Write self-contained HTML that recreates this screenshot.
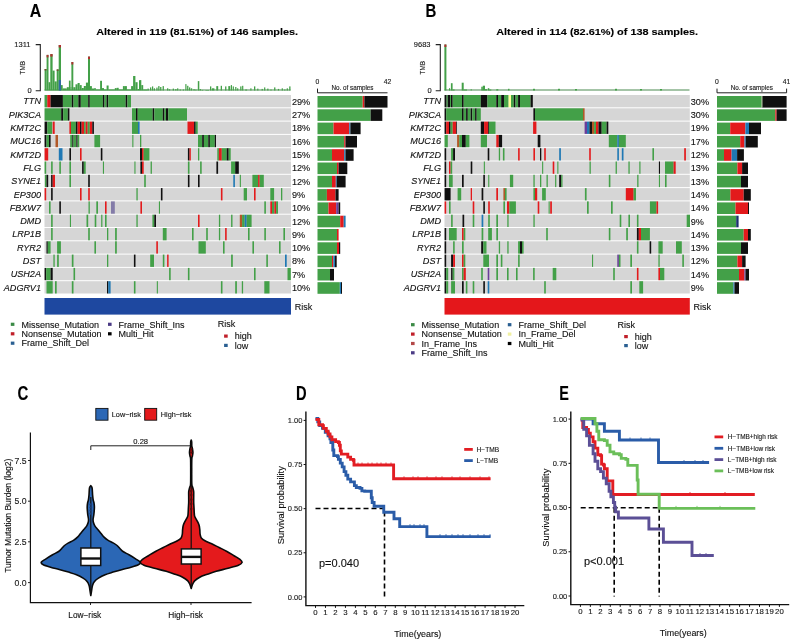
<!DOCTYPE html>
<html><head><meta charset="utf-8"><style>
html,body{margin:0;padding:0;background:#fff;}
body{width:796px;height:640px;overflow:hidden;}
svg{display:block;font-family:"Liberation Sans", sans-serif;filter:blur(0.3px);}
svg text{stroke:#111;stroke-width:0.12px;}
</style></head><body>
<svg width="796" height="640" viewBox="0 0 796 640">
<rect width="796" height="640" fill="#fff"/>
<text x="0" y="0" font-size="19" font-weight="bold" fill="#000" transform="translate(29.8,16.5) scale(0.84,1)">A</text>
<text x="0" y="0" font-size="9.4" font-weight="bold" text-anchor="middle" fill="#000" transform="translate(197.15,34.9) scale(1.16,1)">Altered in 119 (81.51%) of 146 samples.</text>
<path d="M35.7 44.6 H40.3 V90.7 H35.7" fill="none" stroke="#222" stroke-width="1.1"/>
<text x="30.50" y="47.30" font-size="7.5" text-anchor="end" font-weight="normal" font-style="normal" fill="#222" >1311</text>
<text x="31.70" y="93.40" font-size="7.5" text-anchor="end" font-weight="normal" font-style="normal" fill="#222" >0</text>
<text x="0" y="0" font-size="6.4" text-anchor="middle" fill="#222" transform="translate(25.3,67.7) rotate(-90)">TMB</text>
<rect x="44.5" y="89.5" width="246.0" height="1.0" fill="#4a8a50"/>
<rect x="44.60" y="69.00" width="2.00" height="21.50" fill="#43a048" />
<rect x="44.60" y="69.00" width="2.00" height="1.50" fill="#7a4a30" />
<rect x="46.60" y="54.90" width="1.90" height="35.60" fill="#43a048" />
<rect x="46.60" y="54.90" width="1.90" height="2.50" fill="#b03030" />
<rect x="48.50" y="82.20" width="1.80" height="8.30" fill="#43a048" />
<rect x="50.30" y="54.10" width="2.30" height="36.40" fill="#43a048" />
<rect x="50.30" y="54.10" width="2.30" height="2.50" fill="#b03030" />
<rect x="52.60" y="70.60" width="2.00" height="19.90" fill="#43a048" />
<rect x="54.60" y="81.40" width="2.10" height="9.10" fill="#43a048" />
<rect x="56.70" y="69.40" width="2.00" height="21.10" fill="#43a048" />
<rect x="56.70" y="69.40" width="2.00" height="1.50" fill="#7a4a30" />
<rect x="58.70" y="45.00" width="2.30" height="45.50" fill="#43a048" />
<rect x="58.70" y="45.00" width="2.30" height="2.50" fill="#b03030" />
<rect x="58.70" y="80.00" width="2.30" height="10.50" fill="#2f6aa0" />
<rect x="61.00" y="85.10" width="1.70" height="5.40" fill="#43a048" />
<rect x="62.70" y="88.40" width="4.10" height="2.10" fill="#43a048" />
<rect x="66.80" y="87.20" width="2.10" height="3.30" fill="#43a048" />
<rect x="68.90" y="80.60" width="1.70" height="9.90" fill="#43a048" />
<rect x="70.60" y="87.00" width="0.80" height="3.50" fill="#43a048" />
<rect x="71.40" y="62.00" width="1.90" height="28.50" fill="#43a048" />
<rect x="71.40" y="62.00" width="1.90" height="2.50" fill="#b03030" />
<rect x="73.30" y="87.20" width="2.20" height="3.30" fill="#43a048" />
<rect x="75.50" y="84.30" width="2.10" height="6.20" fill="#43a048" />
<rect x="77.60" y="83.00" width="2.10" height="7.50" fill="#43a048" />
<rect x="79.70" y="85.10" width="2.00" height="5.40" fill="#43a048" />
<rect x="81.70" y="88.00" width="2.10" height="2.50" fill="#43a048" />
<rect x="83.80" y="86.00" width="2.10" height="4.50" fill="#43a048" />
<rect x="85.90" y="82.60" width="2.10" height="7.90" fill="#43a048" />
<rect x="88.00" y="56.60" width="2.00" height="33.90" fill="#43a048" />
<rect x="88.00" y="56.60" width="2.00" height="2.50" fill="#b03030" />
<rect x="90.00" y="86.10" width="1.90" height="4.40" fill="#43a048" />
<rect x="91.90" y="88.50" width="2.30" height="2.00" fill="#43a048" />
<rect x="94.20" y="88.10" width="1.60" height="2.40" fill="#43a048" />
<rect x="95.80" y="89.50" width="4.30" height="1.00" fill="#43a048" />
<rect x="100.10" y="80.80" width="1.90" height="9.70" fill="#43a048" />
<rect x="102.00" y="88.10" width="2.00" height="2.40" fill="#43a048" />
<rect x="104.00" y="89.50" width="2.60" height="1.00" fill="#43a048" />
<rect x="106.60" y="85.50" width="2.00" height="5.00" fill="#43a048" />
<rect x="108.60" y="89.50" width="6.20" height="1.00" fill="#43a048" />
<rect x="114.80" y="88.10" width="1.90" height="2.40" fill="#43a048" />
<rect x="116.70" y="87.80" width="2.00" height="2.70" fill="#43a048" />
<rect x="118.70" y="89.50" width="4.20" height="1.00" fill="#43a048" />
<rect x="122.90" y="86.10" width="2.00" height="4.40" fill="#43a048" />
<rect x="124.90" y="86.10" width="2.00" height="4.40" fill="#43a048" />
<rect x="126.90" y="89.50" width="4.20" height="1.00" fill="#43a048" />
<rect x="131.10" y="86.10" width="2.00" height="4.40" fill="#43a048" />
<rect x="133.10" y="76.00" width="2.30" height="14.50" fill="#43a048" />
<rect x="135.40" y="82.20" width="2.20" height="8.30" fill="#43a048" />
<rect x="137.60" y="89.00" width="1.40" height="1.50" fill="#43a048" />
<rect x="139.00" y="80.20" width="1.00" height="10.30" fill="#43a048" />
<rect x="140.00" y="80.10" width="1.30" height="10.40" fill="#43a048" />
<rect x="141.30" y="85.10" width="1.90" height="5.40" fill="#43a048" />
<rect x="143.20" y="89.50" width="4.30" height="1.00" fill="#43a048" />
<rect x="147.50" y="88.60" width="1.30" height="1.90" fill="#43a048" />
<rect x="150.00" y="87.40" width="1.30" height="3.10" fill="#43a048" />
<rect x="152.00" y="86.40" width="1.20" height="4.10" fill="#43a048" />
<rect x="153.80" y="88.30" width="1.20" height="2.20" fill="#43a048" />
<rect x="156.30" y="87.60" width="1.30" height="2.90" fill="#43a048" />
<rect x="158.20" y="86.10" width="1.30" height="4.40" fill="#43a048" />
<rect x="160.10" y="87.00" width="1.30" height="3.50" fill="#43a048" />
<rect x="162.60" y="86.10" width="1.30" height="4.40" fill="#43a048" />
<rect x="167.00" y="88.30" width="1.30" height="2.20" fill="#43a048" />
<rect x="168.90" y="89.30" width="1.30" height="1.20" fill="#43a048" />
<rect x="172.70" y="88.60" width="1.30" height="1.90" fill="#43a048" />
<rect x="175.20" y="89.10" width="1.30" height="1.40" fill="#43a048" />
<rect x="177.10" y="88.30" width="1.20" height="2.20" fill="#43a048" />
<rect x="179.60" y="89.50" width="1.30" height="1.00" fill="#43a048" />
<rect x="182.80" y="89.50" width="1.20" height="1.00" fill="#43a048" />
<rect x="185.30" y="84.10" width="1.20" height="6.40" fill="#43a048" />
<rect x="187.10" y="85.80" width="1.30" height="4.70" fill="#43a048" />
<rect x="189.00" y="87.40" width="1.30" height="3.10" fill="#43a048" />
<rect x="190.90" y="88.30" width="1.30" height="2.20" fill="#43a048" />
<rect x="193.40" y="89.10" width="1.30" height="1.40" fill="#43a048" />
<rect x="195.30" y="89.50" width="1.20" height="1.00" fill="#43a048" />
<rect x="197.80" y="81.10" width="1.50" height="9.40" fill="#43a048" />
<rect x="199.70" y="89.10" width="1.30" height="1.40" fill="#43a048" />
<rect x="201.60" y="89.90" width="1.60" height="0.60" fill="#43a048" />
<rect x="205.40" y="90.00" width="3.60" height="0.50" fill="#43a048" />
<rect x="210.00" y="86.40" width="1.30" height="4.10" fill="#43a048" />
<rect x="211.90" y="88.30" width="2.50" height="2.20" fill="#43a048" />
<rect x="216.30" y="86.10" width="1.90" height="4.40" fill="#43a048" />
<rect x="220.70" y="85.80" width="1.30" height="4.70" fill="#43a048" />
<rect x="225.10" y="86.40" width="1.30" height="4.10" fill="#43a048" />
<rect x="228.30" y="86.10" width="1.90" height="4.40" fill="#43a048" />
<rect x="230.80" y="85.10" width="1.20" height="5.40" fill="#43a048" />
<rect x="232.70" y="86.40" width="1.20" height="4.10" fill="#43a048" />
<rect x="235.20" y="87.00" width="1.20" height="3.50" fill="#43a048" />
<rect x="237.10" y="88.30" width="1.20" height="2.20" fill="#43a048" />
<rect x="240.20" y="86.40" width="1.30" height="4.10" fill="#43a048" />
<rect x="242.10" y="85.80" width="1.20" height="4.70" fill="#43a048" />
<rect x="245.20" y="89.50" width="1.90" height="1.00" fill="#43a048" />
<rect x="250.30" y="88.30" width="1.20" height="2.20" fill="#43a048" />
<rect x="254.00" y="86.40" width="1.30" height="4.10" fill="#43a048" />
<rect x="257.20" y="88.60" width="1.20" height="1.90" fill="#43a048" />
<rect x="261.60" y="88.90" width="1.20" height="1.60" fill="#43a048" />
<rect x="264.10" y="87.40" width="1.20" height="3.10" fill="#43a048" />
<rect x="267.20" y="88.60" width="1.30" height="1.90" fill="#43a048" />
<rect x="270.40" y="89.50" width="1.20" height="1.00" fill="#43a048" />
<rect x="274.10" y="87.40" width="1.30" height="3.10" fill="#43a048" />
<rect x="277.90" y="88.90" width="1.20" height="1.60" fill="#43a048" />
<rect x="281.70" y="88.30" width="1.20" height="2.20" fill="#43a048" />
<rect x="284.20" y="89.50" width="1.20" height="1.00" fill="#43a048" />
<rect x="286.70" y="88.30" width="1.20" height="2.20" fill="#43a048" />
<rect x="289.20" y="86.40" width="1.30" height="4.10" fill="#43a048" />
<rect x="44.50" y="95.00" width="246.50" height="12.30" fill="#d6d6d6" />
<rect x="44.60" y="95.00" width="2.70" height="12.30" fill="#43a048" />
<rect x="47.30" y="95.00" width="3.30" height="12.30" fill="#e31a1c" />
<rect x="50.60" y="95.00" width="12.30" height="12.30" fill="#101010" />
<rect x="62.90" y="95.00" width="8.90" height="12.30" fill="#43a048" />
<rect x="71.80" y="95.00" width="1.70" height="12.30" fill="#101010" />
<rect x="73.50" y="95.00" width="4.90" height="12.30" fill="#43a048" />
<rect x="78.40" y="95.00" width="2.40" height="12.30" fill="#101010" />
<rect x="80.80" y="95.00" width="7.40" height="12.30" fill="#43a048" />
<rect x="88.20" y="95.00" width="1.60" height="12.30" fill="#101010" />
<rect x="89.80" y="95.00" width="13.10" height="12.30" fill="#43a048" />
<rect x="102.90" y="95.00" width="1.60" height="12.30" fill="#101010" />
<rect x="104.50" y="95.00" width="2.10" height="12.30" fill="#43a048" />
<rect x="106.60" y="95.00" width="1.70" height="12.30" fill="#101010" />
<rect x="108.30" y="95.00" width="17.40" height="12.30" fill="#43a048" />
<rect x="125.70" y="95.00" width="1.70" height="12.30" fill="#101010" />
<rect x="127.40" y="95.00" width="3.60" height="12.30" fill="#43a048" />
<text x="41.00" y="104.40" font-size="9.1" text-anchor="end" font-weight="normal" font-style="italic" fill="#111" >TTN</text>
<text x="292.00" y="104.80" font-size="9.1" text-anchor="start" font-weight="normal" font-style="normal" fill="#111" >29%</text>
<rect x="317.50" y="96.00" width="45.20" height="11.60" fill="#43a048" />
<rect x="362.70" y="96.00" width="1.70" height="11.60" fill="#e31a1c" />
<rect x="364.40" y="96.00" width="23.10" height="11.60" fill="#101010" />
<rect x="44.50" y="108.30" width="246.50" height="12.30" fill="#d6d6d6" />
<rect x="44.60" y="108.30" width="16.60" height="12.30" fill="#43a048" />
<rect x="61.20" y="108.30" width="2.00" height="12.30" fill="#101010" />
<rect x="63.20" y="108.30" width="4.60" height="12.30" fill="#43a048" />
<rect x="67.80" y="108.30" width="1.60" height="12.30" fill="#101010" />
<rect x="132.00" y="108.30" width="4.00" height="12.30" fill="#43a048" />
<rect x="136.00" y="108.30" width="1.70" height="12.30" fill="#101010" />
<rect x="137.70" y="108.30" width="15.00" height="12.30" fill="#43a048" />
<rect x="152.70" y="108.30" width="1.60" height="12.30" fill="#101010" />
<rect x="154.30" y="108.30" width="8.50" height="12.30" fill="#43a048" />
<rect x="162.80" y="108.30" width="1.70" height="12.30" fill="#101010" />
<rect x="164.50" y="108.30" width="1.50" height="12.30" fill="#43a048" />
<rect x="166.00" y="108.30" width="2.30" height="12.30" fill="#101010" />
<rect x="168.30" y="108.30" width="18.70" height="12.30" fill="#43a048" />
<text x="41.00" y="117.70" font-size="9.1" text-anchor="end" font-weight="normal" font-style="italic" fill="#111" >PIK3CA</text>
<text x="292.00" y="118.10" font-size="9.1" text-anchor="start" font-weight="normal" font-style="normal" fill="#111" >27%</text>
<rect x="317.50" y="109.30" width="53.10" height="11.60" fill="#43a048" />
<rect x="370.60" y="109.30" width="11.70" height="11.60" fill="#101010" />
<rect x="44.50" y="121.60" width="246.50" height="12.30" fill="#d6d6d6" />
<rect x="44.60" y="121.60" width="2.70" height="12.30" fill="#101010" />
<rect x="47.30" y="121.60" width="4.90" height="12.30" fill="#43a048" />
<rect x="52.70" y="121.60" width="2.00" height="12.30" fill="#e31a1c" />
<rect x="69.40" y="121.60" width="1.60" height="12.30" fill="#e31a1c" />
<rect x="71.00" y="121.60" width="4.90" height="12.30" fill="#43a048" />
<rect x="75.90" y="121.60" width="1.70" height="12.30" fill="#101010" />
<rect x="77.60" y="121.60" width="2.40" height="12.30" fill="#e31a1c" />
<rect x="80.00" y="121.60" width="1.60" height="12.30" fill="#101010" />
<rect x="81.60" y="121.60" width="2.50" height="12.30" fill="#e31a1c" />
<rect x="84.10" y="121.60" width="1.60" height="12.30" fill="#43a048" />
<rect x="85.70" y="121.60" width="2.00" height="12.30" fill="#e31a1c" />
<rect x="87.70" y="121.60" width="2.10" height="12.30" fill="#43a048" />
<rect x="89.80" y="121.60" width="2.50" height="12.30" fill="#e31a1c" />
<rect x="92.30" y="121.60" width="1.60" height="12.30" fill="#101010" />
<rect x="132.00" y="121.60" width="6.00" height="12.30" fill="#43a048" />
<rect x="138.00" y="121.60" width="1.60" height="12.30" fill="#1f78b4" />
<rect x="187.50" y="121.60" width="6.60" height="12.30" fill="#e31a1c" />
<rect x="194.10" y="121.60" width="1.60" height="12.30" fill="#101010" />
<rect x="195.70" y="121.60" width="2.00" height="12.30" fill="#43a048" />
<text x="41.00" y="131.00" font-size="9.1" text-anchor="end" font-weight="normal" font-style="italic" fill="#111" >KMT2C</text>
<text x="292.00" y="131.40" font-size="9.1" text-anchor="start" font-weight="normal" font-style="normal" fill="#111" >18%</text>
<rect x="317.50" y="122.60" width="16.00" height="11.60" fill="#43a048" />
<rect x="333.50" y="122.60" width="15.80" height="11.60" fill="#e31a1c" />
<rect x="349.30" y="122.60" width="1.10" height="11.60" fill="#1f78b4" />
<rect x="350.40" y="122.60" width="10.20" height="11.60" fill="#101010" />
<rect x="44.50" y="134.90" width="246.50" height="12.30" fill="#d6d6d6" />
<rect x="44.60" y="134.90" width="1.90" height="12.30" fill="#101010" />
<rect x="46.50" y="134.90" width="2.50" height="12.30" fill="#43a048" />
<rect x="49.00" y="134.90" width="1.60" height="12.30" fill="#101010" />
<rect x="55.50" y="134.90" width="2.50" height="12.30" fill="#b15928" />
<rect x="70.20" y="134.90" width="2.10" height="12.30" fill="#43a048" />
<rect x="72.30" y="134.90" width="1.20" height="12.30" fill="#101010" />
<rect x="73.50" y="134.90" width="2.50" height="12.30" fill="#43a048" />
<rect x="76.30" y="134.90" width="1.30" height="12.30" fill="#101010" />
<rect x="77.60" y="134.90" width="1.60" height="12.30" fill="#43a048" />
<rect x="94.40" y="134.90" width="5.70" height="12.30" fill="#43a048" />
<rect x="132.30" y="134.90" width="1.10" height="12.30" fill="#43a048" />
<rect x="140.00" y="134.90" width="1.30" height="12.30" fill="#43a048" />
<rect x="198.00" y="134.90" width="4.20" height="12.30" fill="#43a048" />
<rect x="202.20" y="134.90" width="1.70" height="12.30" fill="#101010" />
<rect x="203.90" y="134.90" width="4.40" height="12.30" fill="#43a048" />
<rect x="208.30" y="134.90" width="1.60" height="12.30" fill="#101010" />
<rect x="209.90" y="134.90" width="4.90" height="12.30" fill="#43a048" />
<rect x="214.80" y="134.90" width="1.20" height="12.30" fill="#101010" />
<text x="41.00" y="144.30" font-size="9.1" text-anchor="end" font-weight="normal" font-style="italic" fill="#111" >MUC16</text>
<text x="292.00" y="144.70" font-size="9.1" text-anchor="start" font-weight="normal" font-style="normal" fill="#111" >16%</text>
<rect x="317.50" y="135.90" width="26.70" height="11.60" fill="#43a048" />
<rect x="344.20" y="135.90" width="1.30" height="11.60" fill="#e31a1c" />
<rect x="345.50" y="135.90" width="11.50" height="11.60" fill="#101010" />
<rect x="44.50" y="148.20" width="246.50" height="12.30" fill="#d6d6d6" />
<rect x="44.60" y="148.20" width="3.60" height="12.30" fill="#e31a1c" />
<rect x="58.80" y="148.20" width="3.70" height="12.30" fill="#1f78b4" />
<rect x="69.40" y="148.20" width="1.60" height="12.30" fill="#101010" />
<rect x="80.00" y="148.20" width="1.60" height="12.30" fill="#e31a1c" />
<rect x="100.80" y="148.20" width="1.60" height="12.30" fill="#101010" />
<rect x="140.00" y="148.20" width="2.00" height="12.30" fill="#101010" />
<rect x="142.00" y="148.20" width="1.70" height="12.30" fill="#e31a1c" />
<rect x="143.70" y="148.20" width="5.70" height="12.30" fill="#43a048" />
<rect x="187.90" y="148.20" width="1.60" height="12.30" fill="#101010" />
<rect x="189.50" y="148.20" width="1.30" height="12.30" fill="#e31a1c" />
<rect x="198.00" y="148.20" width="1.30" height="12.30" fill="#43a048" />
<rect x="217.30" y="148.20" width="1.60" height="12.30" fill="#43a048" />
<rect x="218.90" y="148.20" width="2.90" height="12.30" fill="#e31a1c" />
<rect x="221.80" y="148.20" width="4.90" height="12.30" fill="#43a048" />
<rect x="226.70" y="148.20" width="2.00" height="12.30" fill="#101010" />
<rect x="228.70" y="148.20" width="2.00" height="12.30" fill="#43a048" />
<text x="41.00" y="157.60" font-size="9.1" text-anchor="end" font-weight="normal" font-style="italic" fill="#111" >KMT2D</text>
<text x="292.00" y="158.00" font-size="9.1" text-anchor="start" font-weight="normal" font-style="normal" fill="#111" >15%</text>
<rect x="317.50" y="149.20" width="14.50" height="11.60" fill="#43a048" />
<rect x="332.00" y="149.20" width="12.20" height="11.60" fill="#e31a1c" />
<rect x="344.20" y="149.20" width="1.30" height="11.60" fill="#1f78b4" />
<rect x="345.50" y="149.20" width="8.10" height="11.60" fill="#101010" />
<rect x="44.50" y="161.50" width="246.50" height="12.30" fill="#d6d6d6" />
<rect x="44.60" y="161.50" width="1.60" height="12.30" fill="#43a048" />
<rect x="51.10" y="161.50" width="1.60" height="12.30" fill="#43a048" />
<rect x="59.30" y="161.50" width="1.60" height="12.30" fill="#43a048" />
<rect x="69.40" y="161.50" width="1.60" height="12.30" fill="#43a048" />
<rect x="82.10" y="161.50" width="1.70" height="12.30" fill="#101010" />
<rect x="83.80" y="161.50" width="1.90" height="12.30" fill="#43a048" />
<rect x="102.90" y="161.50" width="1.10" height="12.30" fill="#43a048" />
<rect x="134.40" y="161.50" width="1.10" height="12.30" fill="#43a048" />
<rect x="140.40" y="161.50" width="1.60" height="12.30" fill="#101010" />
<rect x="142.00" y="161.50" width="1.70" height="12.30" fill="#e31a1c" />
<rect x="150.60" y="161.50" width="1.30" height="12.30" fill="#43a048" />
<rect x="187.90" y="161.50" width="1.60" height="12.30" fill="#43a048" />
<rect x="200.10" y="161.50" width="1.60" height="12.30" fill="#43a048" />
<rect x="216.40" y="161.50" width="1.70" height="12.30" fill="#101010" />
<rect x="231.10" y="161.50" width="4.10" height="12.30" fill="#43a048" />
<rect x="235.20" y="161.50" width="3.60" height="12.30" fill="#101010" />
<text x="41.00" y="170.90" font-size="9.1" text-anchor="end" font-weight="normal" font-style="italic" fill="#111" >FLG</text>
<text x="292.00" y="171.30" font-size="9.1" text-anchor="start" font-weight="normal" font-style="normal" fill="#111" >12%</text>
<rect x="317.50" y="162.50" width="19.50" height="11.60" fill="#43a048" />
<rect x="337.00" y="162.50" width="1.60" height="11.60" fill="#e31a1c" />
<rect x="338.60" y="162.50" width="8.70" height="11.60" fill="#101010" />
<rect x="44.50" y="174.80" width="246.50" height="12.30" fill="#d6d6d6" />
<rect x="44.90" y="174.80" width="1.60" height="12.30" fill="#43a048" />
<rect x="46.50" y="174.80" width="1.70" height="12.30" fill="#101010" />
<rect x="51.10" y="174.80" width="1.60" height="12.30" fill="#101010" />
<rect x="52.70" y="174.80" width="2.30" height="12.30" fill="#e31a1c" />
<rect x="69.40" y="174.80" width="1.60" height="12.30" fill="#43a048" />
<rect x="88.20" y="174.80" width="1.60" height="12.30" fill="#101010" />
<rect x="144.20" y="174.80" width="1.60" height="12.30" fill="#43a048" />
<rect x="187.90" y="174.80" width="1.60" height="12.30" fill="#101010" />
<rect x="198.00" y="174.80" width="1.60" height="12.30" fill="#101010" />
<rect x="233.30" y="174.80" width="1.60" height="12.30" fill="#1f78b4" />
<rect x="239.80" y="174.80" width="1.10" height="12.30" fill="#43a048" />
<rect x="252.40" y="174.80" width="5.70" height="12.30" fill="#43a048" />
<rect x="258.10" y="174.80" width="1.60" height="12.30" fill="#e31a1c" />
<rect x="259.70" y="174.80" width="4.10" height="12.30" fill="#43a048" />
<text x="41.00" y="184.20" font-size="9.1" text-anchor="end" font-weight="normal" font-style="italic" fill="#111" >SYNE1</text>
<text x="292.00" y="184.60" font-size="9.1" text-anchor="start" font-weight="normal" font-style="normal" fill="#111" >12%</text>
<rect x="317.50" y="175.80" width="14.50" height="11.60" fill="#43a048" />
<rect x="332.00" y="175.80" width="3.80" height="11.60" fill="#e31a1c" />
<rect x="335.80" y="175.80" width="0.90" height="11.60" fill="#1f78b4" />
<rect x="336.70" y="175.80" width="8.90" height="11.60" fill="#101010" />
<rect x="44.50" y="188.10" width="246.50" height="12.30" fill="#d6d6d6" />
<rect x="44.60" y="188.10" width="1.60" height="12.30" fill="#e31a1c" />
<rect x="51.10" y="188.10" width="1.60" height="12.30" fill="#101010" />
<rect x="80.00" y="188.10" width="1.60" height="12.30" fill="#e31a1c" />
<rect x="88.20" y="188.10" width="1.60" height="12.30" fill="#e31a1c" />
<rect x="136.40" y="188.10" width="1.30" height="12.30" fill="#43a048" />
<rect x="160.90" y="188.10" width="1.60" height="12.30" fill="#101010" />
<rect x="220.90" y="188.10" width="1.60" height="12.30" fill="#e31a1c" />
<rect x="243.70" y="188.10" width="3.30" height="12.30" fill="#43a048" />
<rect x="254.00" y="188.10" width="1.60" height="12.30" fill="#e31a1c" />
<rect x="270.30" y="188.10" width="3.80" height="12.30" fill="#43a048" />
<rect x="281.00" y="188.10" width="1.30" height="12.30" fill="#43a048" />
<text x="41.00" y="197.50" font-size="9.1" text-anchor="end" font-weight="normal" font-style="italic" fill="#111" >EP300</text>
<text x="292.00" y="197.90" font-size="9.1" text-anchor="start" font-weight="normal" font-style="normal" fill="#111" >9%</text>
<rect x="317.50" y="189.10" width="9.40" height="11.60" fill="#43a048" />
<rect x="326.90" y="189.10" width="8.60" height="11.60" fill="#e31a1c" />
<rect x="335.50" y="189.10" width="3.10" height="11.60" fill="#101010" />
<rect x="44.50" y="201.40" width="246.50" height="12.30" fill="#d6d6d6" />
<rect x="49.00" y="201.40" width="1.60" height="12.30" fill="#43a048" />
<rect x="59.30" y="201.40" width="1.60" height="12.30" fill="#101010" />
<rect x="88.50" y="201.40" width="1.30" height="12.30" fill="#43a048" />
<rect x="96.30" y="201.40" width="1.70" height="12.30" fill="#43a048" />
<rect x="105.00" y="201.40" width="1.60" height="12.30" fill="#e31a1c" />
<rect x="111.00" y="201.40" width="3.80" height="12.30" fill="#837ba8" />
<rect x="140.40" y="201.40" width="1.60" height="12.30" fill="#e31a1c" />
<rect x="158.90" y="201.40" width="1.10" height="12.30" fill="#43a048" />
<rect x="264.30" y="201.40" width="1.60" height="12.30" fill="#43a048" />
<rect x="270.30" y="201.40" width="1.70" height="12.30" fill="#e31a1c" />
<rect x="272.00" y="201.40" width="2.40" height="12.30" fill="#43a048" />
<rect x="274.40" y="201.40" width="1.70" height="12.30" fill="#e31a1c" />
<rect x="276.10" y="201.40" width="1.90" height="12.30" fill="#43a048" />
<text x="41.00" y="210.80" font-size="9.1" text-anchor="end" font-weight="normal" font-style="italic" fill="#111" >FBXW7</text>
<text x="292.00" y="211.20" font-size="9.1" text-anchor="start" font-weight="normal" font-style="normal" fill="#111" >10%</text>
<rect x="317.50" y="202.40" width="11.00" height="11.60" fill="#43a048" />
<rect x="328.50" y="202.40" width="7.70" height="11.60" fill="#e31a1c" />
<rect x="336.20" y="202.40" width="2.40" height="11.60" fill="#6a3d9a" />
<rect x="338.60" y="202.40" width="1.60" height="11.60" fill="#101010" />
<rect x="44.50" y="214.70" width="246.50" height="12.30" fill="#d6d6d6" />
<rect x="51.10" y="214.70" width="1.60" height="12.30" fill="#43a048" />
<rect x="69.90" y="214.70" width="1.10" height="12.30" fill="#43a048" />
<rect x="86.50" y="214.70" width="1.70" height="12.30" fill="#43a048" />
<rect x="94.70" y="214.70" width="1.60" height="12.30" fill="#43a048" />
<rect x="101.20" y="214.70" width="1.20" height="12.30" fill="#43a048" />
<rect x="105.00" y="214.70" width="1.60" height="12.30" fill="#43a048" />
<rect x="136.40" y="214.70" width="1.30" height="12.30" fill="#43a048" />
<rect x="152.40" y="214.70" width="1.90" height="12.30" fill="#43a048" />
<rect x="154.30" y="214.70" width="1.70" height="12.30" fill="#101010" />
<rect x="198.00" y="214.70" width="1.60" height="12.30" fill="#e31a1c" />
<rect x="218.90" y="214.70" width="1.30" height="12.30" fill="#43a048" />
<rect x="231.10" y="214.70" width="1.40" height="12.30" fill="#43a048" />
<rect x="239.80" y="214.70" width="2.30" height="12.30" fill="#b15928" />
<rect x="242.10" y="214.70" width="2.60" height="12.30" fill="#43a048" />
<rect x="244.70" y="214.70" width="2.00" height="12.30" fill="#1f78b4" />
<rect x="246.70" y="214.70" width="4.90" height="12.30" fill="#43a048" />
<text x="41.00" y="224.10" font-size="9.1" text-anchor="end" font-weight="normal" font-style="italic" fill="#111" >DMD</text>
<text x="292.00" y="224.50" font-size="9.1" text-anchor="start" font-weight="normal" font-style="normal" fill="#111" >12%</text>
<rect x="317.50" y="215.70" width="22.70" height="11.60" fill="#43a048" />
<rect x="340.20" y="215.70" width="3.50" height="11.60" fill="#e31a1c" />
<rect x="343.70" y="215.70" width="1.90" height="11.60" fill="#1f78b4" />
<rect x="44.50" y="228.00" width="246.50" height="12.30" fill="#d6d6d6" />
<rect x="51.10" y="228.00" width="1.60" height="12.30" fill="#43a048" />
<rect x="88.20" y="228.00" width="1.60" height="12.30" fill="#43a048" />
<rect x="107.00" y="228.00" width="1.30" height="12.30" fill="#43a048" />
<rect x="115.10" y="228.00" width="1.70" height="12.30" fill="#43a048" />
<rect x="162.80" y="228.00" width="3.80" height="12.30" fill="#43a048" />
<rect x="192.00" y="228.00" width="1.60" height="12.30" fill="#43a048" />
<rect x="206.20" y="228.00" width="1.60" height="12.30" fill="#43a048" />
<rect x="218.90" y="228.00" width="1.30" height="12.30" fill="#43a048" />
<rect x="225.10" y="228.00" width="1.60" height="12.30" fill="#e31a1c" />
<rect x="248.00" y="228.00" width="1.60" height="12.30" fill="#43a048" />
<rect x="264.30" y="228.00" width="1.60" height="12.30" fill="#43a048" />
<rect x="283.40" y="228.00" width="1.60" height="12.30" fill="#43a048" />
<text x="41.00" y="237.40" font-size="9.1" text-anchor="end" font-weight="normal" font-style="italic" fill="#111" >LRP1B</text>
<text x="292.00" y="237.80" font-size="9.1" text-anchor="start" font-weight="normal" font-style="normal" fill="#111" >9%</text>
<rect x="317.50" y="229.00" width="19.50" height="11.60" fill="#43a048" />
<rect x="337.00" y="229.00" width="1.60" height="11.60" fill="#e31a1c" />
<rect x="44.50" y="241.30" width="246.50" height="12.30" fill="#d6d6d6" />
<rect x="46.50" y="241.30" width="1.30" height="12.30" fill="#101010" />
<rect x="47.80" y="241.30" width="2.80" height="12.30" fill="#43a048" />
<rect x="57.10" y="241.30" width="3.80" height="12.30" fill="#43a048" />
<rect x="94.40" y="241.30" width="1.60" height="12.30" fill="#43a048" />
<rect x="115.10" y="241.30" width="1.70" height="12.30" fill="#43a048" />
<rect x="156.30" y="241.30" width="1.60" height="12.30" fill="#e31a1c" />
<rect x="198.50" y="241.30" width="7.30" height="12.30" fill="#43a048" />
<rect x="223.00" y="241.30" width="1.60" height="12.30" fill="#43a048" />
<rect x="252.40" y="241.30" width="1.60" height="12.30" fill="#43a048" />
<rect x="279.00" y="241.30" width="1.60" height="12.30" fill="#43a048" />
<text x="41.00" y="250.70" font-size="9.1" text-anchor="end" font-weight="normal" font-style="italic" fill="#111" >RYR2</text>
<text x="292.00" y="251.10" font-size="9.1" text-anchor="start" font-weight="normal" font-style="normal" fill="#111" >10%</text>
<rect x="317.50" y="242.30" width="19.50" height="11.60" fill="#43a048" />
<rect x="337.00" y="242.30" width="2.00" height="11.60" fill="#e31a1c" />
<rect x="339.00" y="242.30" width="1.20" height="11.60" fill="#101010" />
<rect x="44.50" y="254.60" width="246.50" height="12.30" fill="#d6d6d6" />
<rect x="53.40" y="254.60" width="1.30" height="12.30" fill="#43a048" />
<rect x="57.10" y="254.60" width="1.70" height="12.30" fill="#43a048" />
<rect x="71.80" y="254.60" width="1.70" height="12.30" fill="#43a048" />
<rect x="107.00" y="254.60" width="1.30" height="12.30" fill="#43a048" />
<rect x="133.90" y="254.60" width="1.60" height="12.30" fill="#101010" />
<rect x="150.20" y="254.60" width="3.80" height="12.30" fill="#43a048" />
<rect x="162.80" y="254.60" width="1.60" height="12.30" fill="#43a048" />
<rect x="167.10" y="254.60" width="1.50" height="12.30" fill="#e31a1c" />
<rect x="231.10" y="254.60" width="1.70" height="12.30" fill="#43a048" />
<rect x="266.30" y="254.60" width="1.60" height="12.30" fill="#43a048" />
<rect x="285.00" y="254.60" width="1.70" height="12.30" fill="#1f78b4" />
<text x="41.00" y="264.00" font-size="9.1" text-anchor="end" font-weight="normal" font-style="italic" fill="#111" >DST</text>
<text x="292.00" y="264.40" font-size="9.1" text-anchor="start" font-weight="normal" font-style="normal" fill="#111" >8%</text>
<rect x="317.50" y="255.60" width="14.50" height="11.60" fill="#43a048" />
<rect x="332.00" y="255.60" width="1.40" height="11.60" fill="#e31a1c" />
<rect x="333.40" y="255.60" width="1.60" height="11.60" fill="#1f78b4" />
<rect x="335.00" y="255.60" width="1.70" height="11.60" fill="#101010" />
<rect x="44.50" y="267.90" width="246.50" height="12.30" fill="#d6d6d6" />
<rect x="44.60" y="267.90" width="1.60" height="12.30" fill="#101010" />
<rect x="46.20" y="267.90" width="4.40" height="12.30" fill="#43a048" />
<rect x="50.60" y="267.90" width="2.10" height="12.30" fill="#101010" />
<rect x="73.50" y="267.90" width="1.60" height="12.30" fill="#43a048" />
<rect x="169.10" y="267.90" width="1.60" height="12.30" fill="#43a048" />
<rect x="187.90" y="267.90" width="1.60" height="12.30" fill="#43a048" />
<rect x="254.00" y="267.90" width="1.60" height="12.30" fill="#43a048" />
<rect x="287.50" y="267.90" width="3.30" height="12.30" fill="#43a048" />
<text x="41.00" y="277.30" font-size="9.1" text-anchor="end" font-weight="normal" font-style="italic" fill="#111" >USH2A</text>
<text x="292.00" y="277.70" font-size="9.1" text-anchor="start" font-weight="normal" font-style="normal" fill="#111" >7%</text>
<rect x="317.50" y="268.90" width="12.50" height="11.60" fill="#43a048" />
<rect x="330.00" y="268.90" width="4.00" height="11.60" fill="#101010" />
<rect x="44.50" y="281.20" width="246.50" height="12.30" fill="#d6d6d6" />
<rect x="46.50" y="281.20" width="6.20" height="12.30" fill="#43a048" />
<rect x="55.00" y="281.20" width="1.70" height="12.30" fill="#43a048" />
<rect x="71.80" y="281.20" width="1.70" height="12.30" fill="#43a048" />
<rect x="107.00" y="281.20" width="1.30" height="12.30" fill="#101010" />
<rect x="108.30" y="281.20" width="2.30" height="12.30" fill="#1f78b4" />
<rect x="133.90" y="281.20" width="1.60" height="12.30" fill="#43a048" />
<rect x="156.80" y="281.20" width="1.10" height="12.30" fill="#43a048" />
<rect x="220.90" y="281.20" width="1.60" height="12.30" fill="#43a048" />
<rect x="235.20" y="281.20" width="1.70" height="12.30" fill="#43a048" />
<rect x="241.80" y="281.20" width="1.30" height="12.30" fill="#43a048" />
<rect x="264.30" y="281.20" width="5.20" height="12.30" fill="#43a048" />
<text x="41.00" y="290.60" font-size="9.1" text-anchor="end" font-weight="normal" font-style="italic" fill="#111" >ADGRV1</text>
<text x="292.00" y="291.00" font-size="9.1" text-anchor="start" font-weight="normal" font-style="normal" fill="#111" >10%</text>
<rect x="317.50" y="282.20" width="22.30" height="11.60" fill="#43a048" />
<rect x="339.80" y="282.20" width="1.20" height="11.60" fill="#1f78b4" />
<rect x="341.00" y="282.20" width="1.00" height="11.60" fill="#101010" />
<path d="M317.5 88.6 V92.8 H387.5" fill="none" stroke="#222" stroke-width="1"/>
<text x="317.50" y="83.50" font-size="6.8" text-anchor="middle" font-weight="normal" font-style="normal" fill="#222" >0</text>
<text x="387.50" y="83.50" font-size="6.8" text-anchor="middle" font-weight="normal" font-style="normal" fill="#222" >42</text>
<text x="352.50" y="89.60" font-size="6.3" text-anchor="middle" font-weight="normal" font-style="normal" fill="#222" >No. of samples</text>
<rect x="44.50" y="298.00" width="246.50" height="16.60" fill="#1e48a0" />
<text x="294.80" y="309.60" font-size="9" text-anchor="start" font-weight="normal" font-style="normal" fill="#111" >Risk</text>
<text x="0" y="0" font-size="19" font-weight="bold" fill="#000" transform="translate(425.6,16.5) scale(0.79,1)">B</text>
<text x="0" y="0" font-size="9.4" font-weight="bold" text-anchor="middle" fill="#000" transform="translate(597.15,34.9) scale(1.16,1)">Altered in 114 (82.61%) of 138 samples.</text>
<path d="M435.7 44.6 H440.3 V90.7 H435.7" fill="none" stroke="#222" stroke-width="1.1"/>
<text x="430.50" y="47.30" font-size="7.5" text-anchor="end" font-weight="normal" font-style="normal" fill="#222" >9683</text>
<text x="431.70" y="93.40" font-size="7.5" text-anchor="end" font-weight="normal" font-style="normal" fill="#222" >0</text>
<text x="0" y="0" font-size="6.4" text-anchor="middle" fill="#222" transform="translate(425.3,67.7) rotate(-90)">TMB</text>
<rect x="444.5" y="89.5" width="245.0" height="1.0" fill="#4a8a50"/>
<rect x="444.40" y="44.50" width="2.00" height="46.00" fill="#43a048" />
<rect x="444.40" y="44.50" width="2.00" height="2.50" fill="#b03030" />
<rect x="449.00" y="88.20" width="1.10" height="2.30" fill="#43a048" />
<rect x="450.90" y="83.20" width="1.70" height="7.30" fill="#43a048" />
<rect x="452.60" y="89.50" width="2.00" height="1.00" fill="#43a048" />
<rect x="461.70" y="82.70" width="2.00" height="7.80" fill="#43a048" />
<rect x="463.70" y="89.50" width="3.30" height="1.00" fill="#43a048" />
<rect x="470.70" y="89.20" width="1.00" height="1.30" fill="#43a048" />
<rect x="481.30" y="86.70" width="1.50" height="3.80" fill="#43a048" />
<rect x="482.80" y="85.70" width="2.20" height="4.80" fill="#43a048" />
<rect x="485.00" y="89.20" width="2.00" height="1.30" fill="#43a048" />
<rect x="487.80" y="88.20" width="1.50" height="2.30" fill="#43a048" />
<rect x="489.30" y="89.50" width="2.00" height="1.00" fill="#43a048" />
<rect x="496.30" y="89.20" width="2.00" height="1.30" fill="#43a048" />
<rect x="508.00" y="88.80" width="1.50" height="1.70" fill="#43a048" />
<rect x="533.00" y="88.80" width="2.00" height="1.70" fill="#43a048" />
<rect x="558.00" y="88.80" width="2.00" height="1.70" fill="#43a048" />
<rect x="575.00" y="89.00" width="2.00" height="1.50" fill="#43a048" />
<rect x="615.00" y="88.80" width="2.00" height="1.70" fill="#43a048" />
<rect x="640.00" y="89.00" width="2.00" height="1.50" fill="#43a048" />
<rect x="660.00" y="89.00" width="2.00" height="1.50" fill="#43a048" />
<rect x="444.50" y="95.00" width="245.30" height="12.30" fill="#d6d6d6" />
<rect x="444.60" y="95.00" width="2.00" height="12.30" fill="#101010" />
<rect x="446.60" y="95.00" width="1.20" height="12.30" fill="#43a048" />
<rect x="447.80" y="95.00" width="2.20" height="12.30" fill="#101010" />
<rect x="450.00" y="95.00" width="1.00" height="12.30" fill="#43a048" />
<rect x="451.00" y="95.00" width="1.70" height="12.30" fill="#101010" />
<rect x="452.70" y="95.00" width="9.30" height="12.30" fill="#43a048" />
<rect x="462.00" y="95.00" width="1.70" height="12.30" fill="#101010" />
<rect x="463.70" y="95.00" width="17.10" height="12.30" fill="#43a048" />
<rect x="480.80" y="95.00" width="6.60" height="12.30" fill="#101010" />
<rect x="487.40" y="95.00" width="8.90" height="12.30" fill="#43a048" />
<rect x="496.30" y="95.00" width="1.70" height="12.30" fill="#101010" />
<rect x="498.00" y="95.00" width="3.20" height="12.30" fill="#43a048" />
<rect x="501.20" y="95.00" width="2.80" height="12.30" fill="#101010" />
<rect x="504.00" y="95.00" width="4.60" height="12.30" fill="#43a048" />
<rect x="508.60" y="95.00" width="2.40" height="12.30" fill="#ffff99" />
<rect x="511.00" y="95.00" width="2.80" height="12.30" fill="#43a048" />
<rect x="513.80" y="95.00" width="1.70" height="12.30" fill="#101010" />
<rect x="515.50" y="95.00" width="2.60" height="12.30" fill="#43a048" />
<rect x="518.10" y="95.00" width="1.90" height="12.30" fill="#101010" />
<rect x="520.00" y="95.00" width="10.60" height="12.30" fill="#43a048" />
<rect x="530.60" y="95.00" width="2.20" height="12.30" fill="#101010" />
<text x="441.00" y="104.40" font-size="9.1" text-anchor="end" font-weight="normal" font-style="italic" fill="#111" >TTN</text>
<text x="690.80" y="104.80" font-size="9.1" text-anchor="start" font-weight="normal" font-style="normal" fill="#111" >30%</text>
<rect x="717.00" y="96.00" width="44.90" height="11.60" fill="#43a048" />
<rect x="761.90" y="96.00" width="24.70" height="11.60" fill="#101010" />
<rect x="444.50" y="108.30" width="245.30" height="12.30" fill="#d6d6d6" />
<rect x="444.60" y="108.30" width="1.60" height="12.30" fill="#101010" />
<rect x="446.20" y="108.30" width="15.80" height="12.30" fill="#43a048" />
<rect x="462.00" y="108.30" width="1.70" height="12.30" fill="#101010" />
<rect x="463.70" y="108.30" width="2.40" height="12.30" fill="#43a048" />
<rect x="466.10" y="108.30" width="1.70" height="12.30" fill="#101010" />
<rect x="467.80" y="108.30" width="2.90" height="12.30" fill="#43a048" />
<rect x="470.70" y="108.30" width="1.60" height="12.30" fill="#101010" />
<rect x="472.30" y="108.30" width="2.80" height="12.30" fill="#43a048" />
<rect x="475.10" y="108.30" width="1.60" height="12.30" fill="#101010" />
<rect x="476.70" y="108.30" width="4.10" height="12.30" fill="#43a048" />
<rect x="533.40" y="108.30" width="1.60" height="12.30" fill="#101010" />
<rect x="535.00" y="108.30" width="48.00" height="12.30" fill="#43a048" />
<rect x="583.00" y="108.30" width="1.60" height="12.30" fill="#b15928" />
<text x="441.00" y="117.70" font-size="9.1" text-anchor="end" font-weight="normal" font-style="italic" fill="#111" >PIK3CA</text>
<text x="690.80" y="118.10" font-size="9.1" text-anchor="start" font-weight="normal" font-style="normal" fill="#111" >30%</text>
<rect x="717.00" y="109.30" width="58.30" height="11.60" fill="#43a048" />
<rect x="775.30" y="109.30" width="1.30" height="11.60" fill="#e31a1c" />
<rect x="776.60" y="109.30" width="10.00" height="11.60" fill="#101010" />
<rect x="444.50" y="121.60" width="245.30" height="12.30" fill="#d6d6d6" />
<rect x="444.60" y="121.60" width="1.60" height="12.30" fill="#101010" />
<rect x="446.20" y="121.60" width="2.80" height="12.30" fill="#e31a1c" />
<rect x="449.00" y="121.60" width="1.60" height="12.30" fill="#101010" />
<rect x="450.60" y="121.60" width="2.10" height="12.30" fill="#43a048" />
<rect x="452.70" y="121.60" width="3.60" height="12.30" fill="#e31a1c" />
<rect x="456.30" y="121.60" width="0.70" height="12.30" fill="#101010" />
<rect x="480.80" y="121.60" width="3.30" height="12.30" fill="#101010" />
<rect x="484.10" y="121.60" width="4.10" height="12.30" fill="#e31a1c" />
<rect x="488.20" y="121.60" width="0.80" height="12.30" fill="#101010" />
<rect x="489.00" y="121.60" width="6.50" height="12.30" fill="#43a048" />
<rect x="533.10" y="121.60" width="3.30" height="12.30" fill="#e31a1c" />
<rect x="584.60" y="121.60" width="2.40" height="12.30" fill="#6a3d9a" />
<rect x="587.00" y="121.60" width="2.50" height="12.30" fill="#1f78b4" />
<rect x="589.50" y="121.60" width="2.50" height="12.30" fill="#101010" />
<rect x="592.00" y="121.60" width="2.10" height="12.30" fill="#b15928" />
<rect x="594.10" y="121.60" width="1.90" height="12.30" fill="#43a048" />
<rect x="596.00" y="121.60" width="2.50" height="12.30" fill="#e31a1c" />
<rect x="598.50" y="121.60" width="3.20" height="12.30" fill="#101010" />
<rect x="601.70" y="121.60" width="4.90" height="12.30" fill="#43a048" />
<rect x="606.60" y="121.60" width="1.70" height="12.30" fill="#101010" />
<text x="441.00" y="131.00" font-size="9.1" text-anchor="end" font-weight="normal" font-style="italic" fill="#111" >KMT2C</text>
<text x="690.80" y="131.40" font-size="9.1" text-anchor="start" font-weight="normal" font-style="normal" fill="#111" >19%</text>
<rect x="717.00" y="122.60" width="13.20" height="11.60" fill="#43a048" />
<rect x="730.20" y="122.60" width="15.20" height="11.60" fill="#e31a1c" />
<rect x="745.40" y="122.60" width="3.60" height="11.60" fill="#1f78b4" />
<rect x="749.00" y="122.60" width="12.00" height="11.60" fill="#101010" />
<rect x="444.50" y="134.90" width="245.30" height="12.30" fill="#d6d6d6" />
<rect x="444.60" y="134.90" width="3.20" height="12.30" fill="#43a048" />
<rect x="457.10" y="134.90" width="2.20" height="12.30" fill="#b15928" />
<rect x="459.30" y="134.90" width="2.70" height="12.30" fill="#43a048" />
<rect x="462.00" y="134.90" width="3.80" height="12.30" fill="#101010" />
<rect x="465.80" y="134.90" width="3.60" height="12.30" fill="#43a048" />
<rect x="480.80" y="134.90" width="6.20" height="12.30" fill="#43a048" />
<rect x="496.30" y="134.90" width="2.50" height="12.30" fill="#e31a1c" />
<rect x="498.80" y="134.90" width="3.30" height="12.30" fill="#101010" />
<rect x="537.70" y="134.90" width="2.70" height="12.30" fill="#101010" />
<rect x="608.80" y="134.90" width="8.50" height="12.30" fill="#43a048" />
<rect x="617.30" y="134.90" width="1.60" height="12.30" fill="#1f78b4" />
<rect x="618.90" y="134.90" width="6.90" height="12.30" fill="#43a048" />
<text x="441.00" y="144.30" font-size="9.1" text-anchor="end" font-weight="normal" font-style="italic" fill="#111" >MUC16</text>
<text x="690.80" y="144.70" font-size="9.1" text-anchor="start" font-weight="normal" font-style="normal" fill="#111" >17%</text>
<rect x="717.00" y="135.90" width="23.20" height="11.60" fill="#43a048" />
<rect x="740.20" y="135.90" width="4.30" height="11.60" fill="#e31a1c" />
<rect x="744.50" y="135.90" width="1.20" height="11.60" fill="#1f78b4" />
<rect x="745.70" y="135.90" width="12.10" height="11.60" fill="#101010" />
<rect x="444.50" y="148.20" width="245.30" height="12.30" fill="#d6d6d6" />
<rect x="444.60" y="148.20" width="1.60" height="12.30" fill="#101010" />
<rect x="451.10" y="148.20" width="2.00" height="12.30" fill="#43a048" />
<rect x="453.10" y="148.20" width="1.90" height="12.30" fill="#101010" />
<rect x="487.70" y="148.20" width="1.60" height="12.30" fill="#101010" />
<rect x="498.80" y="148.20" width="1.30" height="12.30" fill="#43a048" />
<rect x="502.90" y="148.20" width="1.60" height="12.30" fill="#43a048" />
<rect x="518.10" y="148.20" width="1.60" height="12.30" fill="#e31a1c" />
<rect x="533.40" y="148.20" width="1.60" height="12.30" fill="#e31a1c" />
<rect x="540.00" y="148.20" width="1.30" height="12.30" fill="#101010" />
<rect x="544.20" y="148.20" width="1.60" height="12.30" fill="#e31a1c" />
<rect x="559.20" y="148.20" width="1.70" height="12.30" fill="#1f78b4" />
<rect x="589.20" y="148.20" width="1.60" height="12.30" fill="#e31a1c" />
<rect x="617.30" y="148.20" width="1.60" height="12.30" fill="#1f78b4" />
<rect x="621.80" y="148.20" width="1.70" height="12.30" fill="#1f78b4" />
<rect x="652.40" y="148.20" width="1.60" height="12.30" fill="#43a048" />
<rect x="684.20" y="148.20" width="1.70" height="12.30" fill="#e31a1c" />
<text x="441.00" y="157.60" font-size="9.1" text-anchor="end" font-weight="normal" font-style="italic" fill="#111" >KMT2D</text>
<text x="690.80" y="158.00" font-size="9.1" text-anchor="start" font-weight="normal" font-style="normal" fill="#111" >12%</text>
<rect x="717.00" y="149.20" width="7.00" height="11.60" fill="#43a048" />
<rect x="724.00" y="149.20" width="7.60" height="11.60" fill="#e31a1c" />
<rect x="731.60" y="149.20" width="5.50" height="11.60" fill="#1f78b4" />
<rect x="737.10" y="149.20" width="6.80" height="11.60" fill="#101010" />
<rect x="444.50" y="161.50" width="245.30" height="12.30" fill="#d6d6d6" />
<rect x="444.60" y="161.50" width="1.60" height="12.30" fill="#101010" />
<rect x="449.00" y="161.50" width="1.60" height="12.30" fill="#e31a1c" />
<rect x="450.60" y="161.50" width="1.60" height="12.30" fill="#43a048" />
<rect x="470.70" y="161.50" width="1.60" height="12.30" fill="#101010" />
<rect x="483.80" y="161.50" width="1.10" height="12.30" fill="#43a048" />
<rect x="542.10" y="161.50" width="1.10" height="12.30" fill="#43a048" />
<rect x="552.70" y="161.50" width="1.60" height="12.30" fill="#e31a1c" />
<rect x="557.30" y="161.50" width="1.10" height="12.30" fill="#43a048" />
<rect x="589.50" y="161.50" width="1.30" height="12.30" fill="#43a048" />
<rect x="615.60" y="161.50" width="1.30" height="12.30" fill="#43a048" />
<rect x="628.40" y="161.50" width="1.30" height="12.30" fill="#43a048" />
<rect x="639.30" y="161.50" width="1.20" height="12.30" fill="#43a048" />
<rect x="658.90" y="161.50" width="1.10" height="12.30" fill="#101010" />
<rect x="665.00" y="161.50" width="8.60" height="12.30" fill="#43a048" />
<rect x="673.60" y="161.50" width="2.10" height="12.30" fill="#e31a1c" />
<text x="441.00" y="170.90" font-size="9.1" text-anchor="end" font-weight="normal" font-style="italic" fill="#111" >FLG</text>
<text x="690.80" y="171.30" font-size="9.1" text-anchor="start" font-weight="normal" font-style="normal" fill="#111" >13%</text>
<rect x="717.00" y="162.50" width="20.40" height="11.60" fill="#43a048" />
<rect x="737.40" y="162.50" width="4.70" height="11.60" fill="#e31a1c" />
<rect x="742.10" y="162.50" width="5.90" height="11.60" fill="#101010" />
<rect x="444.50" y="174.80" width="245.30" height="12.30" fill="#d6d6d6" />
<rect x="444.60" y="174.80" width="1.60" height="12.30" fill="#101010" />
<rect x="449.00" y="174.80" width="3.70" height="12.30" fill="#43a048" />
<rect x="462.00" y="174.80" width="1.70" height="12.30" fill="#101010" />
<rect x="483.30" y="174.80" width="1.60" height="12.30" fill="#101010" />
<rect x="488.20" y="174.80" width="1.10" height="12.30" fill="#43a048" />
<rect x="509.90" y="174.80" width="3.30" height="12.30" fill="#43a048" />
<rect x="533.40" y="174.80" width="1.30" height="12.30" fill="#43a048" />
<rect x="540.00" y="174.80" width="1.30" height="12.30" fill="#43a048" />
<rect x="546.50" y="174.80" width="1.30" height="12.30" fill="#43a048" />
<rect x="555.10" y="174.80" width="1.20" height="12.30" fill="#43a048" />
<rect x="559.20" y="174.80" width="2.00" height="12.30" fill="#101010" />
<rect x="561.20" y="174.80" width="1.30" height="12.30" fill="#43a048" />
<rect x="608.80" y="174.80" width="1.60" height="12.30" fill="#43a048" />
<rect x="637.20" y="174.80" width="1.30" height="12.30" fill="#43a048" />
<rect x="658.90" y="174.80" width="1.10" height="12.30" fill="#43a048" />
<rect x="665.00" y="174.80" width="1.60" height="12.30" fill="#43a048" />
<text x="441.00" y="184.20" font-size="9.1" text-anchor="end" font-weight="normal" font-style="italic" fill="#111" >SYNE1</text>
<text x="690.80" y="184.60" font-size="9.1" text-anchor="start" font-weight="normal" font-style="normal" fill="#111" >13%</text>
<rect x="717.00" y="175.80" width="24.00" height="11.60" fill="#43a048" />
<rect x="741.00" y="175.80" width="7.00" height="11.60" fill="#101010" />
<rect x="444.50" y="188.10" width="245.30" height="12.30" fill="#d6d6d6" />
<rect x="444.60" y="188.10" width="6.00" height="12.30" fill="#101010" />
<rect x="457.60" y="188.10" width="3.60" height="12.30" fill="#43a048" />
<rect x="470.70" y="188.10" width="1.30" height="12.30" fill="#e31a1c" />
<rect x="481.60" y="188.10" width="1.70" height="12.30" fill="#101010" />
<rect x="496.30" y="188.10" width="1.70" height="12.30" fill="#e31a1c" />
<rect x="503.40" y="188.10" width="1.60" height="12.30" fill="#b15928" />
<rect x="505.00" y="188.10" width="1.60" height="12.30" fill="#43a048" />
<rect x="533.40" y="188.10" width="1.60" height="12.30" fill="#43a048" />
<rect x="535.00" y="188.10" width="2.20" height="12.30" fill="#e31a1c" />
<rect x="542.10" y="188.10" width="3.70" height="12.30" fill="#43a048" />
<rect x="584.90" y="188.10" width="1.70" height="12.30" fill="#43a048" />
<rect x="625.80" y="188.10" width="7.80" height="12.30" fill="#e31a1c" />
<rect x="633.60" y="188.10" width="2.40" height="12.30" fill="#43a048" />
<text x="441.00" y="197.50" font-size="9.1" text-anchor="end" font-weight="normal" font-style="italic" fill="#111" >EP300</text>
<text x="690.80" y="197.90" font-size="9.1" text-anchor="start" font-weight="normal" font-style="normal" fill="#111" >14%</text>
<rect x="717.00" y="189.10" width="13.40" height="11.60" fill="#43a048" />
<rect x="730.40" y="189.10" width="13.30" height="11.60" fill="#e31a1c" />
<rect x="743.70" y="189.10" width="7.10" height="11.60" fill="#101010" />
<rect x="444.50" y="201.40" width="245.30" height="12.30" fill="#d6d6d6" />
<rect x="444.60" y="201.40" width="1.60" height="12.30" fill="#e31a1c" />
<rect x="449.00" y="201.40" width="1.60" height="12.30" fill="#43a048" />
<rect x="472.70" y="201.40" width="1.60" height="12.30" fill="#e31a1c" />
<rect x="483.30" y="201.40" width="1.60" height="12.30" fill="#101010" />
<rect x="488.20" y="201.40" width="1.60" height="12.30" fill="#e31a1c" />
<rect x="503.40" y="201.40" width="1.60" height="12.30" fill="#43a048" />
<rect x="507.00" y="201.40" width="2.40" height="12.30" fill="#e31a1c" />
<rect x="509.40" y="201.40" width="6.50" height="12.30" fill="#43a048" />
<rect x="537.70" y="201.40" width="1.60" height="12.30" fill="#e31a1c" />
<rect x="548.60" y="201.40" width="1.10" height="12.30" fill="#43a048" />
<rect x="550.20" y="201.40" width="1.70" height="12.30" fill="#e31a1c" />
<rect x="587.00" y="201.40" width="1.70" height="12.30" fill="#43a048" />
<rect x="611.00" y="201.40" width="1.70" height="12.30" fill="#43a048" />
<rect x="649.90" y="201.40" width="6.60" height="12.30" fill="#43a048" />
<rect x="656.50" y="201.40" width="1.60" height="12.30" fill="#e31a1c" />
<text x="441.00" y="210.80" font-size="9.1" text-anchor="end" font-weight="normal" font-style="italic" fill="#111" >FBXW7</text>
<text x="690.80" y="211.20" font-size="9.1" text-anchor="start" font-weight="normal" font-style="normal" fill="#111" >14%</text>
<rect x="717.00" y="202.40" width="18.50" height="11.60" fill="#43a048" />
<rect x="735.50" y="202.40" width="12.50" height="11.60" fill="#e31a1c" />
<rect x="748.00" y="202.40" width="1.00" height="11.60" fill="#101010" />
<rect x="444.50" y="214.70" width="245.30" height="12.30" fill="#d6d6d6" />
<rect x="451.10" y="214.70" width="1.60" height="12.30" fill="#43a048" />
<rect x="462.50" y="214.70" width="1.70" height="12.30" fill="#101010" />
<rect x="472.70" y="214.70" width="1.60" height="12.30" fill="#43a048" />
<rect x="481.60" y="214.70" width="1.70" height="12.30" fill="#1f78b4" />
<rect x="488.20" y="214.70" width="1.60" height="12.30" fill="#43a048" />
<rect x="496.30" y="214.70" width="1.70" height="12.30" fill="#43a048" />
<rect x="507.30" y="214.70" width="1.30" height="12.30" fill="#43a048" />
<rect x="533.40" y="214.70" width="1.30" height="12.30" fill="#43a048" />
<rect x="619.70" y="214.70" width="1.60" height="12.30" fill="#43a048" />
<rect x="628.40" y="214.70" width="1.60" height="12.30" fill="#43a048" />
<rect x="636.90" y="214.70" width="1.60" height="12.30" fill="#43a048" />
<rect x="686.70" y="214.70" width="3.30" height="12.30" fill="#43a048" />
<text x="441.00" y="224.10" font-size="9.1" text-anchor="end" font-weight="normal" font-style="italic" fill="#111" >DMD</text>
<text x="690.80" y="224.50" font-size="9.1" text-anchor="start" font-weight="normal" font-style="normal" fill="#111" >9%</text>
<rect x="717.00" y="215.70" width="19.20" height="11.60" fill="#43a048" />
<rect x="736.20" y="215.70" width="2.40" height="11.60" fill="#1c2f6e" />
<rect x="444.50" y="228.00" width="245.30" height="12.30" fill="#d6d6d6" />
<rect x="444.60" y="228.00" width="1.60" height="12.30" fill="#101010" />
<rect x="449.00" y="228.00" width="7.70" height="12.30" fill="#43a048" />
<rect x="462.00" y="228.00" width="1.70" height="12.30" fill="#e31a1c" />
<rect x="463.70" y="228.00" width="1.60" height="12.30" fill="#43a048" />
<rect x="481.60" y="228.00" width="1.70" height="12.30" fill="#43a048" />
<rect x="488.20" y="228.00" width="3.70" height="12.30" fill="#43a048" />
<rect x="496.30" y="228.00" width="1.70" height="12.30" fill="#43a048" />
<rect x="546.20" y="228.00" width="1.60" height="12.30" fill="#43a048" />
<rect x="608.80" y="228.00" width="1.60" height="12.30" fill="#43a048" />
<rect x="626.20" y="228.00" width="1.70" height="12.30" fill="#43a048" />
<rect x="636.90" y="228.00" width="1.90" height="12.30" fill="#101010" />
<rect x="638.80" y="228.00" width="2.20" height="12.30" fill="#e31a1c" />
<rect x="641.00" y="228.00" width="8.90" height="12.30" fill="#43a048" />
<text x="441.00" y="237.40" font-size="9.1" text-anchor="end" font-weight="normal" font-style="italic" fill="#111" >LRP1B</text>
<text x="690.80" y="237.80" font-size="9.1" text-anchor="start" font-weight="normal" font-style="normal" fill="#111" >14%</text>
<rect x="717.00" y="229.00" width="26.70" height="11.60" fill="#43a048" />
<rect x="743.70" y="229.00" width="4.30" height="11.60" fill="#e31a1c" />
<rect x="748.00" y="229.00" width="2.80" height="11.60" fill="#101010" />
<rect x="444.50" y="241.30" width="245.30" height="12.30" fill="#d6d6d6" />
<rect x="444.60" y="241.30" width="1.60" height="12.30" fill="#101010" />
<rect x="453.10" y="241.30" width="1.60" height="12.30" fill="#43a048" />
<rect x="462.00" y="241.30" width="1.70" height="12.30" fill="#43a048" />
<rect x="481.20" y="241.30" width="2.10" height="12.30" fill="#101010" />
<rect x="483.30" y="241.30" width="3.20" height="12.30" fill="#43a048" />
<rect x="498.80" y="241.30" width="1.30" height="12.30" fill="#43a048" />
<rect x="507.30" y="241.30" width="1.30" height="12.30" fill="#43a048" />
<rect x="518.10" y="241.30" width="1.90" height="12.30" fill="#43a048" />
<rect x="520.00" y="241.30" width="2.00" height="12.30" fill="#101010" />
<rect x="522.00" y="241.30" width="1.60" height="12.30" fill="#43a048" />
<rect x="636.90" y="241.30" width="1.60" height="12.30" fill="#43a048" />
<rect x="649.60" y="241.30" width="1.60" height="12.30" fill="#101010" />
<rect x="658.40" y="241.30" width="4.30" height="12.30" fill="#43a048" />
<rect x="676.00" y="241.30" width="5.80" height="12.30" fill="#43a048" />
<text x="441.00" y="250.70" font-size="9.1" text-anchor="end" font-weight="normal" font-style="italic" fill="#111" >RYR2</text>
<text x="690.80" y="251.10" font-size="9.1" text-anchor="start" font-weight="normal" font-style="normal" fill="#111" >13%</text>
<rect x="717.00" y="242.30" width="24.00" height="11.60" fill="#43a048" />
<rect x="741.00" y="242.30" width="7.00" height="11.60" fill="#101010" />
<rect x="444.50" y="254.60" width="245.30" height="12.30" fill="#d6d6d6" />
<rect x="444.60" y="254.60" width="1.60" height="12.30" fill="#101010" />
<rect x="451.10" y="254.60" width="2.00" height="12.30" fill="#101010" />
<rect x="453.10" y="254.60" width="1.90" height="12.30" fill="#e31a1c" />
<rect x="462.00" y="254.60" width="1.70" height="12.30" fill="#e31a1c" />
<rect x="463.70" y="254.60" width="1.60" height="12.30" fill="#43a048" />
<rect x="483.30" y="254.60" width="5.70" height="12.30" fill="#43a048" />
<rect x="496.30" y="254.60" width="1.70" height="12.30" fill="#43a048" />
<rect x="500.80" y="254.60" width="1.60" height="12.30" fill="#43a048" />
<rect x="518.10" y="254.60" width="1.60" height="12.30" fill="#43a048" />
<rect x="592.00" y="254.60" width="1.10" height="12.30" fill="#43a048" />
<rect x="617.30" y="254.60" width="1.60" height="12.30" fill="#6a3d9a" />
<rect x="618.90" y="254.60" width="1.60" height="12.30" fill="#43a048" />
<rect x="630.30" y="254.60" width="1.70" height="12.30" fill="#43a048" />
<rect x="658.40" y="254.60" width="1.30" height="12.30" fill="#43a048" />
<rect x="682.30" y="254.60" width="1.60" height="12.30" fill="#43a048" />
<text x="441.00" y="264.00" font-size="9.1" text-anchor="end" font-weight="normal" font-style="italic" fill="#111" >DST</text>
<text x="690.80" y="264.40" font-size="9.1" text-anchor="start" font-weight="normal" font-style="normal" fill="#111" >12%</text>
<rect x="717.00" y="255.60" width="20.40" height="11.60" fill="#43a048" />
<rect x="737.40" y="255.60" width="4.70" height="11.60" fill="#e31a1c" />
<rect x="742.10" y="255.60" width="3.50" height="11.60" fill="#101010" />
<rect x="444.50" y="267.90" width="245.30" height="12.30" fill="#d6d6d6" />
<rect x="444.60" y="267.90" width="1.60" height="12.30" fill="#101010" />
<rect x="446.20" y="267.90" width="2.00" height="12.30" fill="#43a048" />
<rect x="451.10" y="267.90" width="1.60" height="12.30" fill="#101010" />
<rect x="452.70" y="267.90" width="1.70" height="12.30" fill="#43a048" />
<rect x="462.00" y="267.90" width="1.70" height="12.30" fill="#43a048" />
<rect x="463.70" y="267.90" width="2.10" height="12.30" fill="#e31a1c" />
<rect x="481.20" y="267.90" width="1.60" height="12.30" fill="#43a048" />
<rect x="487.70" y="267.90" width="1.60" height="12.30" fill="#6a3d9a" />
<rect x="496.30" y="267.90" width="1.70" height="12.30" fill="#43a048" />
<rect x="507.00" y="267.90" width="1.60" height="12.30" fill="#43a048" />
<rect x="516.00" y="267.90" width="1.60" height="12.30" fill="#43a048" />
<rect x="533.10" y="267.90" width="1.60" height="12.30" fill="#43a048" />
<rect x="552.70" y="267.90" width="3.60" height="12.30" fill="#43a048" />
<rect x="613.20" y="267.90" width="1.60" height="12.30" fill="#43a048" />
<rect x="636.90" y="267.90" width="1.60" height="12.30" fill="#e31a1c" />
<rect x="658.40" y="267.90" width="1.60" height="12.30" fill="#e31a1c" />
<rect x="660.00" y="267.90" width="4.30" height="12.30" fill="#43a048" />
<text x="441.00" y="277.30" font-size="9.1" text-anchor="end" font-weight="normal" font-style="italic" fill="#111" >USH2A</text>
<text x="690.80" y="277.70" font-size="9.1" text-anchor="start" font-weight="normal" font-style="normal" fill="#111" >14%</text>
<rect x="717.00" y="268.90" width="22.00" height="11.60" fill="#43a048" />
<rect x="739.00" y="268.90" width="5.40" height="11.60" fill="#e31a1c" />
<rect x="744.40" y="268.90" width="1.10" height="11.60" fill="#6a3d9a" />
<rect x="745.50" y="268.90" width="3.50" height="11.60" fill="#101010" />
<rect x="444.50" y="281.20" width="245.30" height="12.30" fill="#d6d6d6" />
<rect x="444.60" y="281.20" width="1.60" height="12.30" fill="#101010" />
<rect x="446.20" y="281.20" width="2.00" height="12.30" fill="#43a048" />
<rect x="451.10" y="281.20" width="3.90" height="12.30" fill="#43a048" />
<rect x="462.00" y="281.20" width="1.70" height="12.30" fill="#101010" />
<rect x="465.80" y="281.20" width="1.60" height="12.30" fill="#43a048" />
<rect x="472.70" y="281.20" width="1.60" height="12.30" fill="#43a048" />
<rect x="483.30" y="281.20" width="1.60" height="12.30" fill="#101010" />
<rect x="487.70" y="281.20" width="1.60" height="12.30" fill="#1f78b4" />
<rect x="544.20" y="281.20" width="1.60" height="12.30" fill="#43a048" />
<rect x="630.30" y="281.20" width="1.70" height="12.30" fill="#43a048" />
<rect x="639.30" y="281.20" width="3.80" height="12.30" fill="#43a048" />
<text x="441.00" y="290.60" font-size="9.1" text-anchor="end" font-weight="normal" font-style="italic" fill="#111" >ADGRV1</text>
<text x="690.80" y="291.00" font-size="9.1" text-anchor="start" font-weight="normal" font-style="normal" fill="#111" >9%</text>
<rect x="717.00" y="282.20" width="16.40" height="11.60" fill="#43a048" />
<rect x="733.40" y="282.20" width="1.10" height="11.60" fill="#1f78b4" />
<rect x="734.50" y="282.20" width="4.50" height="11.60" fill="#101010" />
<rect x="761.60" y="96.00" width="0.80" height="11.60" fill="#e8f0d0" />
<path d="M717.0 88.6 V92.8 H786.6 V88.6" fill="none" stroke="#222" stroke-width="1"/>
<text x="717.00" y="83.50" font-size="6.8" text-anchor="middle" font-weight="normal" font-style="normal" fill="#222" >0</text>
<text x="786.60" y="83.50" font-size="6.8" text-anchor="middle" font-weight="normal" font-style="normal" fill="#222" >41</text>
<text x="751.80" y="89.60" font-size="6.3" text-anchor="middle" font-weight="normal" font-style="normal" fill="#222" >No. of samples</text>
<rect x="444.50" y="298.00" width="245.30" height="16.60" fill="#e4171b" />
<text x="693.60" y="309.60" font-size="9" text-anchor="start" font-weight="normal" font-style="normal" fill="#111" >Risk</text>
<rect x="10.80" y="322.70" width="3.60" height="3.20" fill="#3b8a46" />
<text x="21.40" y="327.50" font-size="9" text-anchor="start" font-weight="normal" font-style="normal" fill="#111" >Missense_Mutation</text>
<rect x="10.80" y="332.20" width="3.60" height="3.20" fill="#c0202a" />
<text x="21.40" y="337.00" font-size="9" text-anchor="start" font-weight="normal" font-style="normal" fill="#111" >Nonsense_Mutation</text>
<rect x="10.80" y="341.60" width="3.60" height="3.20" fill="#2a5f92" />
<text x="21.40" y="346.40" font-size="9" text-anchor="start" font-weight="normal" font-style="normal" fill="#111" >Frame_Shift_Del</text>
<rect x="108.00" y="322.70" width="3.60" height="3.20" fill="#4b3b85" />
<text x="118.60" y="327.50" font-size="9" text-anchor="start" font-weight="normal" font-style="normal" fill="#111" >Frame_Shift_Ins</text>
<rect x="108.00" y="332.20" width="3.60" height="3.20" fill="#000" />
<text x="118.60" y="337.00" font-size="9" text-anchor="start" font-weight="normal" font-style="normal" fill="#111" >Multi_Hit</text>
<text x="217.80" y="326.80" font-size="9" text-anchor="start" font-weight="normal" font-style="normal" fill="#111" >Risk</text>
<rect x="224.10" y="334.50" width="3.60" height="3.20" fill="#c0202a" />
<text x="234.70" y="339.30" font-size="9" text-anchor="start" font-weight="normal" font-style="normal" fill="#111" >high</text>
<rect x="224.10" y="343.80" width="3.60" height="3.20" fill="#2a5f92" />
<text x="234.70" y="348.60" font-size="9" text-anchor="start" font-weight="normal" font-style="normal" fill="#111" >low</text>
<rect x="411.00" y="323.10" width="3.60" height="3.20" fill="#3b8a46" />
<text x="421.60" y="327.90" font-size="9" text-anchor="start" font-weight="normal" font-style="normal" fill="#111" >Missense_Mutation</text>
<rect x="411.00" y="332.50" width="3.60" height="3.20" fill="#c0202a" />
<text x="421.60" y="337.30" font-size="9" text-anchor="start" font-weight="normal" font-style="normal" fill="#111" >Nonsense_Mutation</text>
<rect x="411.00" y="341.90" width="3.60" height="3.20" fill="#b34848" />
<text x="421.60" y="346.70" font-size="9" text-anchor="start" font-weight="normal" font-style="normal" fill="#111" >In_Frame_Ins</text>
<rect x="411.00" y="351.20" width="3.60" height="3.20" fill="#4b3b85" />
<text x="421.60" y="356.00" font-size="9" text-anchor="start" font-weight="normal" font-style="normal" fill="#111" >Frame_Shift_Ins</text>
<rect x="507.80" y="323.10" width="3.60" height="3.20" fill="#2a5f92" />
<text x="518.40" y="327.90" font-size="9" text-anchor="start" font-weight="normal" font-style="normal" fill="#111" >Frame_Shift_Del</text>
<rect x="507.80" y="332.50" width="3.60" height="3.20" fill="#f0f0a0" />
<text x="518.40" y="337.30" font-size="9" text-anchor="start" font-weight="normal" font-style="normal" fill="#111" >In_Frame_Del</text>
<rect x="507.80" y="341.90" width="3.60" height="3.20" fill="#000" />
<text x="518.40" y="346.70" font-size="9" text-anchor="start" font-weight="normal" font-style="normal" fill="#111" >Multi_Hit</text>
<text x="617.50" y="327.60" font-size="9" text-anchor="start" font-weight="normal" font-style="normal" fill="#111" >Risk</text>
<rect x="624.20" y="335.00" width="3.60" height="3.20" fill="#c0202a" />
<text x="634.80" y="339.80" font-size="9" text-anchor="start" font-weight="normal" font-style="normal" fill="#111" >high</text>
<rect x="624.20" y="344.00" width="3.60" height="3.20" fill="#2a5f92" />
<text x="634.80" y="348.80" font-size="9" text-anchor="start" font-weight="normal" font-style="normal" fill="#111" >low</text>
<text x="0" y="0" font-size="19.8" font-weight="bold" fill="#000" transform="translate(17.4,400.0) scale(0.76,1)">C</text>
<rect x="95.80" y="408.40" width="12.20" height="11.80" fill="#2b67b5" stroke="#111" stroke-width="0.9"/>
<text x="111.80" y="416.90" font-size="7.3" text-anchor="start" font-weight="normal" font-style="normal" fill="#111" >Low−risk</text>
<rect x="144.70" y="408.40" width="12.00" height="11.80" fill="#e41a1c" stroke="#111" stroke-width="0.9"/>
<text x="160.80" y="416.90" font-size="7.3" text-anchor="start" font-weight="normal" font-style="normal" fill="#111" >High−risk</text>
<path d="M30.4 432.5 V602.7 H251.6" fill="none" stroke="#111" stroke-width="1.2"/>
<line x1="28" y1="460.5" x2="30.4" y2="460.5" stroke="#111" stroke-width="0.9"/>
<text x="26.60" y="463.60" font-size="8.7" text-anchor="end" font-weight="normal" font-style="normal" fill="#222" >7.5</text>
<line x1="28" y1="501.2" x2="30.4" y2="501.2" stroke="#111" stroke-width="0.9"/>
<text x="26.60" y="504.30" font-size="8.7" text-anchor="end" font-weight="normal" font-style="normal" fill="#222" >5.0</text>
<line x1="28" y1="541.8" x2="30.4" y2="541.8" stroke="#111" stroke-width="0.9"/>
<text x="26.60" y="544.90" font-size="8.7" text-anchor="end" font-weight="normal" font-style="normal" fill="#222" >2.5</text>
<line x1="28" y1="582.6" x2="30.4" y2="582.6" stroke="#111" stroke-width="0.9"/>
<text x="26.60" y="585.70" font-size="8.7" text-anchor="end" font-weight="normal" font-style="normal" fill="#222" >0.0</text>
<text x="0" y="0" font-size="8.6" text-anchor="middle" fill="#111" transform="translate(11.2,515.7) rotate(-90)">Tumor Mutation Burden (log2)</text>
<line x1="90.5" y1="602.7" x2="90.5" y2="605" stroke="#111" stroke-width="0.9"/>
<line x1="191.0" y1="602.7" x2="191.0" y2="605" stroke="#111" stroke-width="0.9"/>
<text x="84.80" y="618.00" font-size="8.3" text-anchor="middle" font-weight="normal" font-style="normal" fill="#111" >Low−risk</text>
<text x="185.60" y="618.00" font-size="8.3" text-anchor="middle" font-weight="normal" font-style="normal" fill="#111" >High−risk</text>
<path d="M90.8 450 V445.8 H191.2 V450" fill="none" stroke="#222" stroke-width="1"/>
<text x="140.70" y="444.20" font-size="7.6" text-anchor="middle" font-weight="normal" font-style="normal" fill="#111" >0.28</text>
<path d="M90.80 485.70 C91.02 486.08 91.80 486.45 92.10 488.00 C92.40 489.55 92.42 493.00 92.60 495.00 C92.78 497.00 92.97 498.67 93.20 500.00 C93.43 501.33 93.80 501.83 94.00 503.00 C94.20 504.17 94.37 505.67 94.40 507.00 C94.43 508.33 94.30 509.67 94.20 511.00 C94.10 512.33 93.98 513.67 93.80 515.00 C93.62 516.33 93.18 517.83 93.10 519.00 C93.02 520.17 93.03 520.90 93.30 522.00 C93.57 523.10 93.95 524.33 94.70 525.60 C95.45 526.87 96.73 528.27 97.80 529.60 C98.87 530.93 100.10 532.38 101.10 533.60 C102.10 534.82 102.68 535.80 103.80 536.90 C104.92 538.00 106.25 539.20 107.80 540.20 C109.35 541.20 111.55 542.02 113.10 542.90 C114.65 543.78 116.00 544.62 117.10 545.50 C118.20 546.38 118.72 547.20 119.70 548.20 C120.68 549.20 121.45 550.40 123.00 551.50 C124.55 552.60 126.90 553.58 129.00 554.80 C131.10 556.02 133.72 557.58 135.60 558.80 C137.48 560.02 139.85 561.10 140.30 562.10 C140.75 563.10 139.97 563.92 138.30 564.80 C136.63 565.68 132.95 566.63 130.30 567.40 C127.65 568.17 125.27 568.62 122.40 569.40 C119.53 570.18 115.98 571.22 113.10 572.10 C110.22 572.98 107.53 573.70 105.10 574.70 C102.67 575.70 100.27 576.98 98.50 578.10 C96.73 579.22 95.50 580.18 94.50 581.40 C93.50 582.62 92.98 583.85 92.50 585.40 C92.02 586.95 91.88 589.02 91.60 590.70 C91.32 592.38 90.93 594.70 90.80 595.50 C90.67 594.70 90.28 592.38 90.00 590.70 C89.72 589.02 89.58 586.95 89.10 585.40 C88.62 583.85 88.10 582.62 87.10 581.40 C86.10 580.18 84.87 579.22 83.10 578.10 C81.33 576.98 78.93 575.70 76.50 574.70 C74.07 573.70 71.38 572.98 68.50 572.10 C65.62 571.22 62.07 570.18 59.20 569.40 C56.33 568.62 53.95 568.17 51.30 567.40 C48.65 566.63 44.97 565.68 43.30 564.80 C41.63 563.92 40.85 563.10 41.30 562.10 C41.75 561.10 44.12 560.02 46.00 558.80 C47.88 557.58 50.50 556.02 52.60 554.80 C54.70 553.58 57.05 552.60 58.60 551.50 C60.15 550.40 60.92 549.20 61.90 548.20 C62.88 547.20 63.40 546.38 64.50 545.50 C65.60 544.62 66.95 543.78 68.50 542.90 C70.05 542.02 72.25 541.20 73.80 540.20 C75.35 539.20 76.68 538.00 77.80 536.90 C78.92 535.80 79.50 534.82 80.50 533.60 C81.50 532.38 82.73 530.93 83.80 529.60 C84.87 528.27 86.15 526.87 86.90 525.60 C87.65 524.33 88.03 523.10 88.30 522.00 C88.57 520.90 88.58 520.17 88.50 519.00 C88.42 517.83 87.98 516.33 87.80 515.00 C87.62 513.67 87.50 512.33 87.40 511.00 C87.30 509.67 87.17 508.33 87.20 507.00 C87.23 505.67 87.40 504.17 87.60 503.00 C87.80 501.83 88.17 501.33 88.40 500.00 C88.63 498.67 88.82 497.00 89.00 495.00 C89.18 493.00 89.20 489.55 89.50 488.00 C89.80 486.45 90.58 486.08 90.80 485.70 Z" fill="#2b67b5" stroke="#0a0a0a" stroke-width="1.6" stroke-linejoin="round"/>
<path d="M191.20 440.00 C191.28 440.33 191.60 441.00 191.70 442.00 C191.80 443.00 191.68 444.92 191.80 446.00 C191.92 447.08 192.22 447.42 192.40 448.50 C192.58 449.58 192.90 451.25 192.90 452.50 C192.90 453.75 192.58 454.92 192.40 456.00 C192.22 457.08 191.92 456.67 191.80 459.00 C191.68 461.33 191.70 465.83 191.70 470.00 C191.70 474.17 191.65 481.17 191.80 484.00 C191.95 486.83 192.35 486.07 192.60 487.00 C192.85 487.93 193.12 488.77 193.30 489.60 C193.48 490.43 193.63 490.77 193.70 492.00 C193.77 493.23 193.70 495.27 193.70 497.00 C193.70 498.73 193.65 500.62 193.70 502.40 C193.75 504.18 193.92 506.10 194.00 507.70 C194.08 509.30 194.12 510.68 194.20 512.00 C194.28 513.32 194.30 514.63 194.50 515.60 C194.70 516.57 194.97 516.93 195.40 517.80 C195.83 518.67 196.48 519.57 197.10 520.80 C197.72 522.03 198.65 523.72 199.10 525.20 C199.55 526.68 199.63 528.20 199.80 529.70 C199.97 531.20 199.85 532.83 200.10 534.20 C200.35 535.57 200.48 536.80 201.30 537.90 C202.12 539.00 203.27 539.82 205.00 540.80 C206.73 541.78 209.35 542.68 211.70 543.80 C214.05 544.92 216.63 546.27 219.10 547.50 C221.57 548.73 224.02 549.83 226.50 551.20 C228.98 552.57 231.77 554.33 234.00 555.70 C236.23 557.07 238.55 558.28 239.90 559.40 C241.25 560.52 242.35 561.42 242.10 562.40 C241.85 563.38 240.75 564.32 238.40 565.30 C236.05 566.28 231.70 567.30 228.00 568.30 C224.30 569.30 219.67 570.30 216.20 571.30 C212.73 572.30 209.93 573.32 207.20 574.30 C204.47 575.28 201.90 576.10 199.80 577.20 C197.70 578.30 195.83 579.65 194.60 580.90 C193.37 582.15 192.97 583.45 192.40 584.70 C191.83 585.95 191.40 587.78 191.20 588.40 C191.00 587.78 190.57 585.95 190.00 584.70 C189.43 583.45 189.03 582.15 187.80 580.90 C186.57 579.65 184.70 578.30 182.60 577.20 C180.50 576.10 177.93 575.28 175.20 574.30 C172.47 573.32 169.67 572.30 166.20 571.30 C162.73 570.30 158.10 569.30 154.40 568.30 C150.70 567.30 146.35 566.28 144.00 565.30 C141.65 564.32 140.55 563.38 140.30 562.40 C140.05 561.42 141.15 560.52 142.50 559.40 C143.85 558.28 146.17 557.07 148.40 555.70 C150.63 554.33 153.42 552.57 155.90 551.20 C158.38 549.83 160.83 548.73 163.30 547.50 C165.77 546.27 168.35 544.92 170.70 543.80 C173.05 542.68 175.67 541.78 177.40 540.80 C179.13 539.82 180.28 539.00 181.10 537.90 C181.92 536.80 182.05 535.57 182.30 534.20 C182.55 532.83 182.43 531.20 182.60 529.70 C182.77 528.20 182.85 526.68 183.30 525.20 C183.75 523.72 184.68 522.03 185.30 520.80 C185.92 519.57 186.57 518.67 187.00 517.80 C187.43 516.93 187.70 516.57 187.90 515.60 C188.10 514.63 188.12 513.32 188.20 512.00 C188.28 510.68 188.32 509.30 188.40 507.70 C188.48 506.10 188.65 504.18 188.70 502.40 C188.75 500.62 188.70 498.73 188.70 497.00 C188.70 495.27 188.63 493.23 188.70 492.00 C188.77 490.77 188.92 490.43 189.10 489.60 C189.28 488.77 189.55 487.93 189.80 487.00 C190.05 486.07 190.45 486.83 190.60 484.00 C190.75 481.17 190.70 474.17 190.70 470.00 C190.70 465.83 190.72 461.33 190.60 459.00 C190.48 456.67 190.18 457.08 190.00 456.00 C189.82 454.92 189.50 453.75 189.50 452.50 C189.50 451.25 189.82 449.58 190.00 448.50 C190.18 447.42 190.48 447.08 190.60 446.00 C190.72 444.92 190.60 443.00 190.70 442.00 C190.80 441.00 191.12 440.33 191.20 440.00 Z" fill="#e41a1c" stroke="#0a0a0a" stroke-width="1.6" stroke-linejoin="round"/>
<line x1="90.8" y1="497" x2="90.8" y2="592" stroke="#111" stroke-width="1.2"/>
<line x1="191.2" y1="486" x2="191.2" y2="586" stroke="#111" stroke-width="1.2"/>
<circle cx="90.8" cy="504.5" r="1.3" fill="#1b3f7a"/>
<circle cx="90.8" cy="507.5" r="1.3" fill="#1b3f7a"/>
<circle cx="90.8" cy="510.5" r="1.3" fill="#1b3f7a"/>
<circle cx="90.8" cy="513.5" r="1.3" fill="#1b3f7a"/>
<circle cx="191.2" cy="449.5" r="1.2" fill="#5a0a0a"/>
<circle cx="191.2" cy="452.5" r="1.2" fill="#5a0a0a"/>
<circle cx="191.2" cy="491" r="1.2" fill="#5a0a0a"/>
<circle cx="191.2" cy="495" r="1.2" fill="#5a0a0a"/>
<circle cx="191.2" cy="499.5" r="1.2" fill="#5a0a0a"/>
<circle cx="191.2" cy="504" r="1.2" fill="#5a0a0a"/>
<circle cx="191.2" cy="509" r="1.2" fill="#5a0a0a"/>
<rect x="80.90" y="548.00" width="19.80" height="17.50" fill="#fff" stroke="#111" stroke-width="1.5"/>
<line x1="80.9" y1="558.5" x2="100.7" y2="558.5" stroke="#111" stroke-width="2.4"/>
<rect x="181.40" y="548.90" width="19.70" height="15.10" fill="#fff" stroke="#111" stroke-width="1.5"/>
<line x1="181.4" y1="556.9" x2="201.1" y2="556.9" stroke="#111" stroke-width="2.4"/>
<text x="0" y="0" font-size="19.6" font-weight="bold" fill="#000" transform="translate(295.9,399.9) scale(0.75,1)">D</text>
<path d="M305.9 411.5 V605.6 H524.3" fill="none" stroke="#111" stroke-width="1.4"/>
<line x1="303.6" y1="420.40" x2="305.9" y2="420.40" stroke="#111" stroke-width="1"/>
<text x="302.40" y="423.10" font-size="7.5" text-anchor="end" font-weight="normal" font-style="normal" fill="#222" >1.00</text>
<line x1="303.6" y1="464.52" x2="305.9" y2="464.52" stroke="#111" stroke-width="1"/>
<text x="302.40" y="467.22" font-size="7.5" text-anchor="end" font-weight="normal" font-style="normal" fill="#222" >0.75</text>
<line x1="303.6" y1="508.65" x2="305.9" y2="508.65" stroke="#111" stroke-width="1"/>
<text x="302.40" y="511.35" font-size="7.5" text-anchor="end" font-weight="normal" font-style="normal" fill="#222" >0.50</text>
<line x1="303.6" y1="552.77" x2="305.9" y2="552.77" stroke="#111" stroke-width="1"/>
<text x="302.40" y="555.48" font-size="7.5" text-anchor="end" font-weight="normal" font-style="normal" fill="#222" >0.25</text>
<line x1="303.6" y1="596.90" x2="305.9" y2="596.90" stroke="#111" stroke-width="1"/>
<text x="302.40" y="599.60" font-size="7.5" text-anchor="end" font-weight="normal" font-style="normal" fill="#222" >0.00</text>
<line x1="315.50" y1="605.6" x2="315.50" y2="607.9" stroke="#111" stroke-width="1"/>
<text x="315.50" y="614.90" font-size="7.8" text-anchor="middle" font-weight="normal" font-style="normal" fill="#222" >0</text>
<line x1="325.48" y1="605.6" x2="325.48" y2="607.9" stroke="#111" stroke-width="1"/>
<text x="325.48" y="614.90" font-size="7.8" text-anchor="middle" font-weight="normal" font-style="normal" fill="#222" >1</text>
<line x1="335.45" y1="605.6" x2="335.45" y2="607.9" stroke="#111" stroke-width="1"/>
<text x="335.45" y="614.90" font-size="7.8" text-anchor="middle" font-weight="normal" font-style="normal" fill="#222" >2</text>
<line x1="345.43" y1="605.6" x2="345.43" y2="607.9" stroke="#111" stroke-width="1"/>
<text x="345.43" y="614.90" font-size="7.8" text-anchor="middle" font-weight="normal" font-style="normal" fill="#222" >3</text>
<line x1="355.40" y1="605.6" x2="355.40" y2="607.9" stroke="#111" stroke-width="1"/>
<text x="355.40" y="614.90" font-size="7.8" text-anchor="middle" font-weight="normal" font-style="normal" fill="#222" >4</text>
<line x1="365.38" y1="605.6" x2="365.38" y2="607.9" stroke="#111" stroke-width="1"/>
<text x="365.38" y="614.90" font-size="7.8" text-anchor="middle" font-weight="normal" font-style="normal" fill="#222" >5</text>
<line x1="375.35" y1="605.6" x2="375.35" y2="607.9" stroke="#111" stroke-width="1"/>
<text x="375.35" y="614.90" font-size="7.8" text-anchor="middle" font-weight="normal" font-style="normal" fill="#222" >6</text>
<line x1="385.32" y1="605.6" x2="385.32" y2="607.9" stroke="#111" stroke-width="1"/>
<text x="385.32" y="614.90" font-size="7.8" text-anchor="middle" font-weight="normal" font-style="normal" fill="#222" >7</text>
<line x1="395.30" y1="605.6" x2="395.30" y2="607.9" stroke="#111" stroke-width="1"/>
<text x="395.30" y="614.90" font-size="7.8" text-anchor="middle" font-weight="normal" font-style="normal" fill="#222" >8</text>
<line x1="405.27" y1="605.6" x2="405.27" y2="607.9" stroke="#111" stroke-width="1"/>
<text x="405.27" y="614.90" font-size="7.8" text-anchor="middle" font-weight="normal" font-style="normal" fill="#222" >9</text>
<line x1="415.25" y1="605.6" x2="415.25" y2="607.9" stroke="#111" stroke-width="1"/>
<text x="415.25" y="614.90" font-size="7.8" text-anchor="middle" font-weight="normal" font-style="normal" fill="#222" >10</text>
<line x1="425.23" y1="605.6" x2="425.23" y2="607.9" stroke="#111" stroke-width="1"/>
<text x="425.23" y="614.90" font-size="7.8" text-anchor="middle" font-weight="normal" font-style="normal" fill="#222" >11</text>
<line x1="435.20" y1="605.6" x2="435.20" y2="607.9" stroke="#111" stroke-width="1"/>
<text x="435.20" y="614.90" font-size="7.8" text-anchor="middle" font-weight="normal" font-style="normal" fill="#222" >12</text>
<line x1="445.17" y1="605.6" x2="445.17" y2="607.9" stroke="#111" stroke-width="1"/>
<text x="445.17" y="614.90" font-size="7.8" text-anchor="middle" font-weight="normal" font-style="normal" fill="#222" >13</text>
<line x1="455.15" y1="605.6" x2="455.15" y2="607.9" stroke="#111" stroke-width="1"/>
<text x="455.15" y="614.90" font-size="7.8" text-anchor="middle" font-weight="normal" font-style="normal" fill="#222" >14</text>
<line x1="465.12" y1="605.6" x2="465.12" y2="607.9" stroke="#111" stroke-width="1"/>
<text x="465.12" y="614.90" font-size="7.8" text-anchor="middle" font-weight="normal" font-style="normal" fill="#222" >15</text>
<line x1="475.10" y1="605.6" x2="475.10" y2="607.9" stroke="#111" stroke-width="1"/>
<text x="475.10" y="614.90" font-size="7.8" text-anchor="middle" font-weight="normal" font-style="normal" fill="#222" >16</text>
<line x1="485.07" y1="605.6" x2="485.07" y2="607.9" stroke="#111" stroke-width="1"/>
<text x="485.07" y="614.90" font-size="7.8" text-anchor="middle" font-weight="normal" font-style="normal" fill="#222" >17</text>
<line x1="495.05" y1="605.6" x2="495.05" y2="607.9" stroke="#111" stroke-width="1"/>
<text x="495.05" y="614.90" font-size="7.8" text-anchor="middle" font-weight="normal" font-style="normal" fill="#222" >18</text>
<line x1="505.02" y1="605.6" x2="505.02" y2="607.9" stroke="#111" stroke-width="1"/>
<text x="505.02" y="614.90" font-size="7.8" text-anchor="middle" font-weight="normal" font-style="normal" fill="#222" >19</text>
<line x1="515.00" y1="605.6" x2="515.00" y2="607.9" stroke="#111" stroke-width="1"/>
<text x="515.00" y="614.90" font-size="7.8" text-anchor="middle" font-weight="normal" font-style="normal" fill="#222" >20</text>
<text x="417.80" y="637.00" font-size="8.9" text-anchor="middle" font-weight="normal" font-style="normal" fill="#111" >Time(years)</text>
<text x="0" y="0" font-size="9.3" text-anchor="middle" fill="#111" transform="translate(283.8,505.2) rotate(-90)">Survival probability</text>
<text x="0" y="0" font-size="19.6" font-weight="bold" fill="#000" transform="translate(559.2,399.9) scale(0.74,1)">E</text>
<path d="M570.8 411.5 V604.6 H789.2" fill="none" stroke="#111" stroke-width="1.4"/>
<line x1="568.5" y1="419.10" x2="570.8" y2="419.10" stroke="#111" stroke-width="1"/>
<text x="567.30" y="421.80" font-size="7.5" text-anchor="end" font-weight="normal" font-style="normal" fill="#222" >1.00</text>
<line x1="568.5" y1="463.33" x2="570.8" y2="463.33" stroke="#111" stroke-width="1"/>
<text x="567.30" y="466.03" font-size="7.5" text-anchor="end" font-weight="normal" font-style="normal" fill="#222" >0.75</text>
<line x1="568.5" y1="507.55" x2="570.8" y2="507.55" stroke="#111" stroke-width="1"/>
<text x="567.30" y="510.25" font-size="7.5" text-anchor="end" font-weight="normal" font-style="normal" fill="#222" >0.50</text>
<line x1="568.5" y1="551.77" x2="570.8" y2="551.77" stroke="#111" stroke-width="1"/>
<text x="567.30" y="554.48" font-size="7.5" text-anchor="end" font-weight="normal" font-style="normal" fill="#222" >0.25</text>
<line x1="568.5" y1="596.00" x2="570.8" y2="596.00" stroke="#111" stroke-width="1"/>
<text x="567.30" y="598.70" font-size="7.5" text-anchor="end" font-weight="normal" font-style="normal" fill="#222" >0.00</text>
<line x1="580.40" y1="604.6" x2="580.40" y2="606.9" stroke="#111" stroke-width="1"/>
<text x="580.40" y="613.90" font-size="7.8" text-anchor="middle" font-weight="normal" font-style="normal" fill="#222" >0</text>
<line x1="590.35" y1="604.6" x2="590.35" y2="606.9" stroke="#111" stroke-width="1"/>
<text x="590.35" y="613.90" font-size="7.8" text-anchor="middle" font-weight="normal" font-style="normal" fill="#222" >1</text>
<line x1="600.30" y1="604.6" x2="600.30" y2="606.9" stroke="#111" stroke-width="1"/>
<text x="600.30" y="613.90" font-size="7.8" text-anchor="middle" font-weight="normal" font-style="normal" fill="#222" >2</text>
<line x1="610.25" y1="604.6" x2="610.25" y2="606.9" stroke="#111" stroke-width="1"/>
<text x="610.25" y="613.90" font-size="7.8" text-anchor="middle" font-weight="normal" font-style="normal" fill="#222" >3</text>
<line x1="620.20" y1="604.6" x2="620.20" y2="606.9" stroke="#111" stroke-width="1"/>
<text x="620.20" y="613.90" font-size="7.8" text-anchor="middle" font-weight="normal" font-style="normal" fill="#222" >4</text>
<line x1="630.15" y1="604.6" x2="630.15" y2="606.9" stroke="#111" stroke-width="1"/>
<text x="630.15" y="613.90" font-size="7.8" text-anchor="middle" font-weight="normal" font-style="normal" fill="#222" >5</text>
<line x1="640.10" y1="604.6" x2="640.10" y2="606.9" stroke="#111" stroke-width="1"/>
<text x="640.10" y="613.90" font-size="7.8" text-anchor="middle" font-weight="normal" font-style="normal" fill="#222" >6</text>
<line x1="650.05" y1="604.6" x2="650.05" y2="606.9" stroke="#111" stroke-width="1"/>
<text x="650.05" y="613.90" font-size="7.8" text-anchor="middle" font-weight="normal" font-style="normal" fill="#222" >7</text>
<line x1="660.00" y1="604.6" x2="660.00" y2="606.9" stroke="#111" stroke-width="1"/>
<text x="660.00" y="613.90" font-size="7.8" text-anchor="middle" font-weight="normal" font-style="normal" fill="#222" >8</text>
<line x1="669.95" y1="604.6" x2="669.95" y2="606.9" stroke="#111" stroke-width="1"/>
<text x="669.95" y="613.90" font-size="7.8" text-anchor="middle" font-weight="normal" font-style="normal" fill="#222" >9</text>
<line x1="679.90" y1="604.6" x2="679.90" y2="606.9" stroke="#111" stroke-width="1"/>
<text x="679.90" y="613.90" font-size="7.8" text-anchor="middle" font-weight="normal" font-style="normal" fill="#222" >10</text>
<line x1="689.85" y1="604.6" x2="689.85" y2="606.9" stroke="#111" stroke-width="1"/>
<text x="689.85" y="613.90" font-size="7.8" text-anchor="middle" font-weight="normal" font-style="normal" fill="#222" >11</text>
<line x1="699.80" y1="604.6" x2="699.80" y2="606.9" stroke="#111" stroke-width="1"/>
<text x="699.80" y="613.90" font-size="7.8" text-anchor="middle" font-weight="normal" font-style="normal" fill="#222" >12</text>
<line x1="709.75" y1="604.6" x2="709.75" y2="606.9" stroke="#111" stroke-width="1"/>
<text x="709.75" y="613.90" font-size="7.8" text-anchor="middle" font-weight="normal" font-style="normal" fill="#222" >13</text>
<line x1="719.70" y1="604.6" x2="719.70" y2="606.9" stroke="#111" stroke-width="1"/>
<text x="719.70" y="613.90" font-size="7.8" text-anchor="middle" font-weight="normal" font-style="normal" fill="#222" >14</text>
<line x1="729.65" y1="604.6" x2="729.65" y2="606.9" stroke="#111" stroke-width="1"/>
<text x="729.65" y="613.90" font-size="7.8" text-anchor="middle" font-weight="normal" font-style="normal" fill="#222" >15</text>
<line x1="739.60" y1="604.6" x2="739.60" y2="606.9" stroke="#111" stroke-width="1"/>
<text x="739.60" y="613.90" font-size="7.8" text-anchor="middle" font-weight="normal" font-style="normal" fill="#222" >16</text>
<line x1="749.55" y1="604.6" x2="749.55" y2="606.9" stroke="#111" stroke-width="1"/>
<text x="749.55" y="613.90" font-size="7.8" text-anchor="middle" font-weight="normal" font-style="normal" fill="#222" >17</text>
<line x1="759.50" y1="604.6" x2="759.50" y2="606.9" stroke="#111" stroke-width="1"/>
<text x="759.50" y="613.90" font-size="7.8" text-anchor="middle" font-weight="normal" font-style="normal" fill="#222" >18</text>
<line x1="769.45" y1="604.6" x2="769.45" y2="606.9" stroke="#111" stroke-width="1"/>
<text x="769.45" y="613.90" font-size="7.8" text-anchor="middle" font-weight="normal" font-style="normal" fill="#222" >19</text>
<line x1="779.40" y1="604.6" x2="779.40" y2="606.9" stroke="#111" stroke-width="1"/>
<text x="779.40" y="613.90" font-size="7.8" text-anchor="middle" font-weight="normal" font-style="normal" fill="#222" >20</text>
<text x="683.20" y="635.90" font-size="8.9" text-anchor="middle" font-weight="normal" font-style="normal" fill="#111" >Time(years)</text>
<text x="0" y="0" font-size="9.3" text-anchor="middle" fill="#111" transform="translate(548.6,507.7) rotate(-90)">Survival probability</text>
<path d="M315.5 508.5 H384.5 V597.4" fill="none" stroke="#000" stroke-width="1.6" stroke-dasharray="5 3"/>
<path d="M315.50 418.50 L317.80 418.50 L317.80 421.90 L319.70 421.90 L319.70 425.60 L322.50 425.60 L322.50 428.40 L325.30 428.40 L325.30 432.20 L328.10 432.20 L328.10 435.90 L330.00 435.90 L330.00 438.80 L330.90 438.80 L330.90 442.50 L332.80 442.50 L332.80 450.00 L333.80 450.00 L333.80 455.60 L337.50 455.60 L337.50 456.60 L338.40 456.60 L338.40 459.40 L340.30 459.40 L340.30 463.10 L342.20 463.10 L342.20 466.90 L344.10 466.90 L344.10 471.60 L345.90 471.60 L345.90 475.30 L347.80 475.30 L347.80 479.10 L350.60 479.10 L350.60 481.90 L354.40 481.90 L354.40 485.60 L356.30 485.60 L356.30 487.50 L360.00 487.50 L360.00 488.40 L361.90 488.40 L361.90 490.90 L364.70 490.90 L364.70 491.30 L371.30 491.30 L371.30 491.60 L371.30 497.80 L372.20 497.80 L372.20 502.50 L374.10 502.50 L374.10 506.20 L383.75 506.20 L383.75 512.20 L394.00 512.20 L394.00 518.75 L399.70 518.75 L399.70 526.60 L426.90 526.60 L426.90 536.60 L490.60 536.60" fill="none" stroke="#2a5ca8" stroke-width="2.9" stroke-linejoin="miter"/>
<path d="M315.50 419.50 L318.80 419.50 L318.80 424.70 L322.50 424.70 L322.50 425.60 L323.40 425.60 L323.40 428.40 L326.30 428.40 L326.30 431.30 L328.10 431.30 L328.10 434.00 L330.00 434.00 L330.00 436.90 L331.90 436.90 L331.90 439.70 L334.70 439.70 L335.60 439.70 L335.60 441.60 L338.40 441.60 L338.40 442.50 L339.40 442.50 L339.40 445.30 L340.30 445.30 L340.30 450.90 L341.30 450.90 L341.30 454.10 L346.90 454.10 L347.80 454.10 L347.80 457.10 L349.70 457.10 L350.60 457.10 L350.60 459.40 L353.40 459.40 L353.40 460.30 L354.00 460.30 L354.00 465.00 L393.60 465.00 L393.60 478.80 L490.60 478.80" fill="none" stroke="#e21d23" stroke-width="2.9" stroke-linejoin="miter"/>
<line x1="358" y1="465" x2="358" y2="462.5" stroke="#e21d23" stroke-width="0.8"/>
<line x1="362" y1="465" x2="362" y2="462.5" stroke="#e21d23" stroke-width="0.8"/>
<line x1="368" y1="465" x2="368" y2="462.5" stroke="#e21d23" stroke-width="0.8"/>
<line x1="372" y1="465" x2="372" y2="462.5" stroke="#e21d23" stroke-width="0.8"/>
<line x1="377" y1="465" x2="377" y2="462.5" stroke="#e21d23" stroke-width="0.8"/>
<line x1="381" y1="465" x2="381" y2="462.5" stroke="#e21d23" stroke-width="0.8"/>
<line x1="386" y1="465" x2="386" y2="462.5" stroke="#e21d23" stroke-width="0.8"/>
<line x1="391" y1="465" x2="391" y2="462.5" stroke="#e21d23" stroke-width="0.8"/>
<line x1="404" y1="478.8" x2="404" y2="476.3" stroke="#e21d23" stroke-width="0.8"/>
<line x1="413" y1="478.8" x2="413" y2="476.3" stroke="#e21d23" stroke-width="0.8"/>
<line x1="418" y1="478.8" x2="418" y2="476.3" stroke="#e21d23" stroke-width="0.8"/>
<line x1="427" y1="478.8" x2="427" y2="476.3" stroke="#e21d23" stroke-width="0.8"/>
<line x1="436" y1="478.8" x2="436" y2="476.3" stroke="#e21d23" stroke-width="0.8"/>
<line x1="442" y1="478.8" x2="442" y2="476.3" stroke="#e21d23" stroke-width="0.8"/>
<line x1="452" y1="478.8" x2="452" y2="476.3" stroke="#e21d23" stroke-width="0.8"/>
<line x1="460" y1="478.8" x2="460" y2="476.3" stroke="#e21d23" stroke-width="0.8"/>
<line x1="470" y1="478.8" x2="470" y2="476.3" stroke="#e21d23" stroke-width="0.8"/>
<line x1="480" y1="478.8" x2="480" y2="476.3" stroke="#e21d23" stroke-width="0.8"/>
<line x1="489" y1="478.8" x2="489" y2="476.3" stroke="#e21d23" stroke-width="0.8"/>
<line x1="410" y1="526.6" x2="410" y2="524.1" stroke="#2a5ca8" stroke-width="0.8"/>
<line x1="414" y1="526.6" x2="414" y2="524.1" stroke="#2a5ca8" stroke-width="0.8"/>
<line x1="420" y1="526.6" x2="420" y2="524.1" stroke="#2a5ca8" stroke-width="0.8"/>
<line x1="424" y1="526.6" x2="424" y2="524.1" stroke="#2a5ca8" stroke-width="0.8"/>
<line x1="440" y1="536.6" x2="440" y2="534.1" stroke="#2a5ca8" stroke-width="0.8"/>
<line x1="446" y1="536.6" x2="446" y2="534.1" stroke="#2a5ca8" stroke-width="0.8"/>
<line x1="452" y1="536.6" x2="452" y2="534.1" stroke="#2a5ca8" stroke-width="0.8"/>
<line x1="458" y1="536.6" x2="458" y2="534.1" stroke="#2a5ca8" stroke-width="0.8"/>
<line x1="463" y1="536.6" x2="463" y2="534.1" stroke="#2a5ca8" stroke-width="0.8"/>
<line x1="470" y1="536.6" x2="470" y2="534.1" stroke="#2a5ca8" stroke-width="0.8"/>
<line x1="478" y1="536.6" x2="478" y2="534.1" stroke="#2a5ca8" stroke-width="0.8"/>
<line x1="484" y1="536.6" x2="484" y2="534.1" stroke="#2a5ca8" stroke-width="0.8"/>
<line x1="490" y1="536.6" x2="490" y2="534.1" stroke="#2a5ca8" stroke-width="0.8"/>
<line x1="464.2" y1="449.4" x2="472.8" y2="449.4" stroke="#e21d23" stroke-width="2.8"/>
<line x1="464.2" y1="460.6" x2="472.8" y2="460.6" stroke="#2a5ca8" stroke-width="2.8"/>
<text x="476.60" y="451.90" font-size="6.6" text-anchor="start" font-weight="normal" font-style="normal" fill="#222" >H−TMB</text>
<text x="476.60" y="463.10" font-size="6.6" text-anchor="start" font-weight="normal" font-style="normal" fill="#222" >L−TMB</text>
<text x="319.00" y="566.80" font-size="11" text-anchor="start" font-weight="normal" font-style="normal" fill="#111" >p=0.040</text>
<path d="M580.7 507.8 H659.2 M614.2 507.8 V596.5 M659.2 507.8 V596.5" fill="none" stroke="#000" stroke-width="1.6" stroke-dasharray="5 3"/>
<path d="M580.70 420.00 L582.80 420.00 L582.80 427.50 L586.60 427.50 L586.60 429.40 L588.40 429.40 L588.40 433.10 L590.30 433.10 L590.30 436.90 L593.10 436.90 L593.10 441.60 L595.00 441.60 L595.00 448.10 L597.80 448.10 L597.80 454.70 L600.60 454.70 L600.60 455.60 L601.60 455.60 L601.60 464.10 L603.40 464.10 L603.40 465.00 L604.40 465.00 L604.40 468.75 L607.20 468.75 L607.20 480.90 L612.80 480.90 L612.80 481.90 L612.80 494.50 L754.80 494.50" fill="none" stroke="#e21d23" stroke-width="2.9" stroke-linejoin="miter"/>
<path d="M580.70 419.00 L593.10 419.00 L593.10 423.75 L604.40 423.75 L604.40 431.25 L619.40 431.25 L619.40 440.00 L658.50 440.00 L658.50 462.50 L709.10 462.50" fill="none" stroke="#2a5ca8" stroke-width="2.9" stroke-linejoin="miter"/>
<path d="M580.70 420.00 L583.75 420.00 L583.75 429.40 L586.60 429.40 L586.60 435.90 L589.40 435.90 L589.40 445.30 L593.10 445.30 L593.10 453.75 L595.00 453.75 L595.00 461.25 L597.80 461.25 L597.80 468.75 L600.60 468.75 L600.60 471.60 L603.40 471.60 L603.40 478.10 L606.25 478.10 L606.25 483.75 L609.10 483.75 L609.10 491.25 L610.90 491.25 L610.90 496.90 L613.40 496.90 L613.40 502.50 L614.70 502.50 L614.70 507.20 L615.60 507.20 L615.60 511.90 L618.40 511.90 L618.40 512.80 L618.40 518.00 L648.90 518.00 L648.90 529.00 L663.40 529.00 L663.40 542.30 L692.00 542.30 L692.00 555.50 L713.80 555.50" fill="none" stroke="#5b4f96" stroke-width="2.9" stroke-linejoin="miter"/>
<path d="M580.70 418.50 L594.10 418.50 L595.00 418.50 L595.00 423.75 L596.90 423.75 L596.90 431.25 L598.75 431.25 L598.75 439.70 L604.40 439.70 L604.40 440.60 L607.20 440.60 L607.20 445.30 L610.00 445.30 L610.00 451.90 L613.75 451.90 L613.75 453.75 L619.40 453.75 L619.40 454.70 L621.25 454.70 L621.25 458.40 L625.90 458.40 L625.90 459.40 L627.80 459.40 L627.80 465.40 L635.90 465.40 L637.20 465.40 L637.20 480.00 L638.10 480.00 L638.10 494.30 L659.20 494.30 L659.20 508.40 L755.30 508.40" fill="none" stroke="#6bbf59" stroke-width="2.9" stroke-linejoin="miter"/>
<line x1="630" y1="440" x2="630" y2="437.5" stroke="#2a5ca8" stroke-width="0.8"/>
<line x1="641" y1="440" x2="641" y2="437.5" stroke="#2a5ca8" stroke-width="0.8"/>
<line x1="650" y1="440" x2="650" y2="437.5" stroke="#2a5ca8" stroke-width="0.8"/>
<line x1="684" y1="462.5" x2="684" y2="460.0" stroke="#2a5ca8" stroke-width="0.8"/>
<line x1="695" y1="462.5" x2="695" y2="460.0" stroke="#2a5ca8" stroke-width="0.8"/>
<line x1="703" y1="462.5" x2="703" y2="460.0" stroke="#2a5ca8" stroke-width="0.8"/>
<line x1="690" y1="494.5" x2="690" y2="492.0" stroke="#e21d23" stroke-width="0.8"/>
<line x1="725" y1="494.5" x2="725" y2="492.0" stroke="#e21d23" stroke-width="0.8"/>
<line x1="676" y1="508.4" x2="676" y2="505.9" stroke="#6bbf59" stroke-width="0.8"/>
<line x1="697" y1="508.4" x2="697" y2="505.9" stroke="#6bbf59" stroke-width="0.8"/>
<line x1="720" y1="508.4" x2="720" y2="505.9" stroke="#6bbf59" stroke-width="0.8"/>
<line x1="700" y1="555.5" x2="700" y2="553.0" stroke="#5b4f96" stroke-width="0.8"/>
<line x1="706" y1="555.5" x2="706" y2="553.0" stroke="#5b4f96" stroke-width="0.8"/>
<line x1="714.5" y1="436.9" x2="723.2" y2="436.9" stroke="#e21d23" stroke-width="2.8"/>
<text x="727.80" y="439.30" font-size="6.45" text-anchor="start" font-weight="normal" font-style="normal" fill="#222" >H−TMB+high risk</text>
<line x1="714.5" y1="448.3" x2="723.2" y2="448.3" stroke="#2a5ca8" stroke-width="2.8"/>
<text x="727.80" y="450.70" font-size="6.45" text-anchor="start" font-weight="normal" font-style="normal" fill="#222" >H−TMB+low risk</text>
<line x1="714.5" y1="459.6" x2="723.2" y2="459.6" stroke="#5b4f96" stroke-width="2.8"/>
<text x="727.80" y="462.00" font-size="6.45" text-anchor="start" font-weight="normal" font-style="normal" fill="#222" >L−TMB+high risk</text>
<line x1="714.5" y1="470.9" x2="723.2" y2="470.9" stroke="#6bbf59" stroke-width="2.8"/>
<text x="727.80" y="473.30" font-size="6.45" text-anchor="start" font-weight="normal" font-style="normal" fill="#222" >L−TMB+low risk</text>
<text x="584.00" y="564.50" font-size="11" text-anchor="start" font-weight="normal" font-style="normal" fill="#111" >p&lt;0.001</text>
</svg>
</body></html>
